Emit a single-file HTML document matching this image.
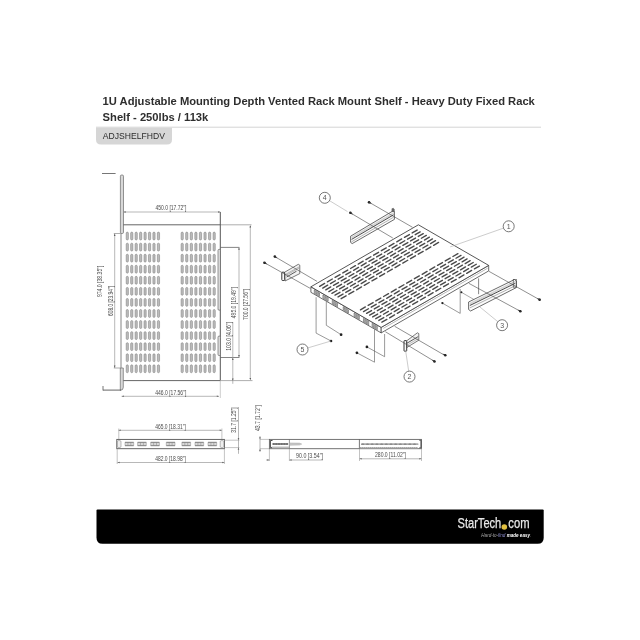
<!DOCTYPE html>
<html><head><meta charset="utf-8"><style>
html,body{margin:0;padding:0;background:#fff;}
body{width:640px;height:640px;overflow:hidden;position:relative;font-family:"Liberation Sans",sans-serif;}
svg{position:absolute;left:0;top:0;will-change:transform;}
</style></head><body>
<svg width="640" height="640" viewBox="0 0 640 640" font-family="Liberation Sans, sans-serif">
<rect width="640" height="640" fill="#fff"/>
<text x="102.6" y="104.5" font-size="11.2" font-weight="bold" fill="#2e2e2e">1U Adjustable Mounting Depth Vented Rack Mount Shelf - Heavy Duty Fixed Rack</text>
<text x="102.6" y="121.4" font-size="11.2" font-weight="bold" fill="#2e2e2e">Shelf - 250lbs / 113k</text>
<line x1="96" y1="127.2" x2="541" y2="127.2" stroke="#d4d4d4" stroke-width="1"/>
<path d="M96,127.7 H172 V139.4 Q172,144.4 167,144.4 H101 Q96,144.4 96,139.4 Z" fill="#d6d6d6"/>
<text x="102.8" y="139.3" font-size="8.6" fill="#2c2c2c">ADJSHELFHDV</text>
<line x1="102.00" y1="173.50" x2="115.60" y2="173.50" stroke="#666" stroke-width="0.9" />
<rect x="120.4" y="175" width="3.1" height="58.5" rx="1.2" fill="#d8d8d8" stroke="#6a6a6a" stroke-width="0.7"/>
<path d="M120.3,368 L123.3,368 L123.3,387.2 Q123.3,390.3 120.3,390.3 L120.3,368 Z" fill="#d8d8d8" stroke="#6a6a6a" stroke-width="0.7"/>
<line x1="103.00" y1="390.10" x2="121.00" y2="390.10" stroke="#555" stroke-width="0.9" />
<line x1="103.00" y1="386.00" x2="103.00" y2="390.50" stroke="#666" stroke-width="0.9" />
<line x1="121.00" y1="233.00" x2="121.00" y2="368.00" stroke="#777" stroke-width="0.9" />
<line x1="123.30" y1="224.80" x2="220.30" y2="224.80" stroke="#666" stroke-width="1.0" />
<line x1="220.30" y1="224.80" x2="251.50" y2="224.80" stroke="#999" stroke-width="0.8" />
<line x1="220.30" y1="212.00" x2="220.30" y2="380.60" stroke="#555" stroke-width="1.0" />
<line x1="123.30" y1="380.60" x2="220.30" y2="380.60" stroke="#666" stroke-width="1.0" />
<line x1="220.30" y1="380.60" x2="252.50" y2="380.60" stroke="#999" stroke-width="0.8" />
<rect x="126.20" y="232.10" width="2.2" height="7.9" rx="1.1" fill="#bcbcbc" stroke="#767676" stroke-width="0.5"/>
<rect x="181.10" y="232.10" width="2.2" height="7.9" rx="1.1" fill="#bcbcbc" stroke="#767676" stroke-width="0.5"/>
<rect x="130.65" y="232.10" width="2.2" height="7.9" rx="1.1" fill="#bcbcbc" stroke="#767676" stroke-width="0.5"/>
<rect x="185.67" y="232.10" width="2.2" height="7.9" rx="1.1" fill="#bcbcbc" stroke="#767676" stroke-width="0.5"/>
<rect x="135.10" y="232.10" width="2.2" height="7.9" rx="1.1" fill="#bcbcbc" stroke="#767676" stroke-width="0.5"/>
<rect x="190.24" y="232.10" width="2.2" height="7.9" rx="1.1" fill="#bcbcbc" stroke="#767676" stroke-width="0.5"/>
<rect x="139.55" y="232.10" width="2.2" height="7.9" rx="1.1" fill="#bcbcbc" stroke="#767676" stroke-width="0.5"/>
<rect x="194.81" y="232.10" width="2.2" height="7.9" rx="1.1" fill="#bcbcbc" stroke="#767676" stroke-width="0.5"/>
<rect x="144.00" y="232.10" width="2.2" height="7.9" rx="1.1" fill="#bcbcbc" stroke="#767676" stroke-width="0.5"/>
<rect x="199.38" y="232.10" width="2.2" height="7.9" rx="1.1" fill="#bcbcbc" stroke="#767676" stroke-width="0.5"/>
<rect x="148.45" y="232.10" width="2.2" height="7.9" rx="1.1" fill="#bcbcbc" stroke="#767676" stroke-width="0.5"/>
<rect x="203.95" y="232.10" width="2.2" height="7.9" rx="1.1" fill="#bcbcbc" stroke="#767676" stroke-width="0.5"/>
<rect x="152.90" y="232.10" width="2.2" height="7.9" rx="1.1" fill="#bcbcbc" stroke="#767676" stroke-width="0.5"/>
<rect x="208.52" y="232.10" width="2.2" height="7.9" rx="1.1" fill="#bcbcbc" stroke="#767676" stroke-width="0.5"/>
<rect x="157.35" y="232.10" width="2.2" height="7.9" rx="1.1" fill="#bcbcbc" stroke="#767676" stroke-width="0.5"/>
<rect x="213.09" y="232.10" width="2.2" height="7.9" rx="1.1" fill="#bcbcbc" stroke="#767676" stroke-width="0.5"/>
<rect x="126.20" y="243.16" width="2.2" height="7.9" rx="1.1" fill="#bcbcbc" stroke="#767676" stroke-width="0.5"/>
<rect x="181.10" y="243.16" width="2.2" height="7.9" rx="1.1" fill="#bcbcbc" stroke="#767676" stroke-width="0.5"/>
<rect x="130.65" y="243.16" width="2.2" height="7.9" rx="1.1" fill="#bcbcbc" stroke="#767676" stroke-width="0.5"/>
<rect x="185.67" y="243.16" width="2.2" height="7.9" rx="1.1" fill="#bcbcbc" stroke="#767676" stroke-width="0.5"/>
<rect x="135.10" y="243.16" width="2.2" height="7.9" rx="1.1" fill="#bcbcbc" stroke="#767676" stroke-width="0.5"/>
<rect x="190.24" y="243.16" width="2.2" height="7.9" rx="1.1" fill="#bcbcbc" stroke="#767676" stroke-width="0.5"/>
<rect x="139.55" y="243.16" width="2.2" height="7.9" rx="1.1" fill="#bcbcbc" stroke="#767676" stroke-width="0.5"/>
<rect x="194.81" y="243.16" width="2.2" height="7.9" rx="1.1" fill="#bcbcbc" stroke="#767676" stroke-width="0.5"/>
<rect x="144.00" y="243.16" width="2.2" height="7.9" rx="1.1" fill="#bcbcbc" stroke="#767676" stroke-width="0.5"/>
<rect x="199.38" y="243.16" width="2.2" height="7.9" rx="1.1" fill="#bcbcbc" stroke="#767676" stroke-width="0.5"/>
<rect x="148.45" y="243.16" width="2.2" height="7.9" rx="1.1" fill="#bcbcbc" stroke="#767676" stroke-width="0.5"/>
<rect x="203.95" y="243.16" width="2.2" height="7.9" rx="1.1" fill="#bcbcbc" stroke="#767676" stroke-width="0.5"/>
<rect x="152.90" y="243.16" width="2.2" height="7.9" rx="1.1" fill="#bcbcbc" stroke="#767676" stroke-width="0.5"/>
<rect x="208.52" y="243.16" width="2.2" height="7.9" rx="1.1" fill="#bcbcbc" stroke="#767676" stroke-width="0.5"/>
<rect x="157.35" y="243.16" width="2.2" height="7.9" rx="1.1" fill="#bcbcbc" stroke="#767676" stroke-width="0.5"/>
<rect x="213.09" y="243.16" width="2.2" height="7.9" rx="1.1" fill="#bcbcbc" stroke="#767676" stroke-width="0.5"/>
<rect x="126.20" y="254.22" width="2.2" height="7.9" rx="1.1" fill="#bcbcbc" stroke="#767676" stroke-width="0.5"/>
<rect x="181.10" y="254.22" width="2.2" height="7.9" rx="1.1" fill="#bcbcbc" stroke="#767676" stroke-width="0.5"/>
<rect x="130.65" y="254.22" width="2.2" height="7.9" rx="1.1" fill="#bcbcbc" stroke="#767676" stroke-width="0.5"/>
<rect x="185.67" y="254.22" width="2.2" height="7.9" rx="1.1" fill="#bcbcbc" stroke="#767676" stroke-width="0.5"/>
<rect x="135.10" y="254.22" width="2.2" height="7.9" rx="1.1" fill="#bcbcbc" stroke="#767676" stroke-width="0.5"/>
<rect x="190.24" y="254.22" width="2.2" height="7.9" rx="1.1" fill="#bcbcbc" stroke="#767676" stroke-width="0.5"/>
<rect x="139.55" y="254.22" width="2.2" height="7.9" rx="1.1" fill="#bcbcbc" stroke="#767676" stroke-width="0.5"/>
<rect x="194.81" y="254.22" width="2.2" height="7.9" rx="1.1" fill="#bcbcbc" stroke="#767676" stroke-width="0.5"/>
<rect x="144.00" y="254.22" width="2.2" height="7.9" rx="1.1" fill="#bcbcbc" stroke="#767676" stroke-width="0.5"/>
<rect x="199.38" y="254.22" width="2.2" height="7.9" rx="1.1" fill="#bcbcbc" stroke="#767676" stroke-width="0.5"/>
<rect x="148.45" y="254.22" width="2.2" height="7.9" rx="1.1" fill="#bcbcbc" stroke="#767676" stroke-width="0.5"/>
<rect x="203.95" y="254.22" width="2.2" height="7.9" rx="1.1" fill="#bcbcbc" stroke="#767676" stroke-width="0.5"/>
<rect x="152.90" y="254.22" width="2.2" height="7.9" rx="1.1" fill="#bcbcbc" stroke="#767676" stroke-width="0.5"/>
<rect x="208.52" y="254.22" width="2.2" height="7.9" rx="1.1" fill="#bcbcbc" stroke="#767676" stroke-width="0.5"/>
<rect x="157.35" y="254.22" width="2.2" height="7.9" rx="1.1" fill="#bcbcbc" stroke="#767676" stroke-width="0.5"/>
<rect x="213.09" y="254.22" width="2.2" height="7.9" rx="1.1" fill="#bcbcbc" stroke="#767676" stroke-width="0.5"/>
<rect x="126.20" y="265.28" width="2.2" height="7.9" rx="1.1" fill="#bcbcbc" stroke="#767676" stroke-width="0.5"/>
<rect x="181.10" y="265.28" width="2.2" height="7.9" rx="1.1" fill="#bcbcbc" stroke="#767676" stroke-width="0.5"/>
<rect x="130.65" y="265.28" width="2.2" height="7.9" rx="1.1" fill="#bcbcbc" stroke="#767676" stroke-width="0.5"/>
<rect x="185.67" y="265.28" width="2.2" height="7.9" rx="1.1" fill="#bcbcbc" stroke="#767676" stroke-width="0.5"/>
<rect x="135.10" y="265.28" width="2.2" height="7.9" rx="1.1" fill="#bcbcbc" stroke="#767676" stroke-width="0.5"/>
<rect x="190.24" y="265.28" width="2.2" height="7.9" rx="1.1" fill="#bcbcbc" stroke="#767676" stroke-width="0.5"/>
<rect x="139.55" y="265.28" width="2.2" height="7.9" rx="1.1" fill="#bcbcbc" stroke="#767676" stroke-width="0.5"/>
<rect x="194.81" y="265.28" width="2.2" height="7.9" rx="1.1" fill="#bcbcbc" stroke="#767676" stroke-width="0.5"/>
<rect x="144.00" y="265.28" width="2.2" height="7.9" rx="1.1" fill="#bcbcbc" stroke="#767676" stroke-width="0.5"/>
<rect x="199.38" y="265.28" width="2.2" height="7.9" rx="1.1" fill="#bcbcbc" stroke="#767676" stroke-width="0.5"/>
<rect x="148.45" y="265.28" width="2.2" height="7.9" rx="1.1" fill="#bcbcbc" stroke="#767676" stroke-width="0.5"/>
<rect x="203.95" y="265.28" width="2.2" height="7.9" rx="1.1" fill="#bcbcbc" stroke="#767676" stroke-width="0.5"/>
<rect x="152.90" y="265.28" width="2.2" height="7.9" rx="1.1" fill="#bcbcbc" stroke="#767676" stroke-width="0.5"/>
<rect x="208.52" y="265.28" width="2.2" height="7.9" rx="1.1" fill="#bcbcbc" stroke="#767676" stroke-width="0.5"/>
<rect x="157.35" y="265.28" width="2.2" height="7.9" rx="1.1" fill="#bcbcbc" stroke="#767676" stroke-width="0.5"/>
<rect x="213.09" y="265.28" width="2.2" height="7.9" rx="1.1" fill="#bcbcbc" stroke="#767676" stroke-width="0.5"/>
<rect x="126.20" y="276.34" width="2.2" height="7.9" rx="1.1" fill="#bcbcbc" stroke="#767676" stroke-width="0.5"/>
<rect x="181.10" y="276.34" width="2.2" height="7.9" rx="1.1" fill="#bcbcbc" stroke="#767676" stroke-width="0.5"/>
<rect x="130.65" y="276.34" width="2.2" height="7.9" rx="1.1" fill="#bcbcbc" stroke="#767676" stroke-width="0.5"/>
<rect x="185.67" y="276.34" width="2.2" height="7.9" rx="1.1" fill="#bcbcbc" stroke="#767676" stroke-width="0.5"/>
<rect x="135.10" y="276.34" width="2.2" height="7.9" rx="1.1" fill="#bcbcbc" stroke="#767676" stroke-width="0.5"/>
<rect x="190.24" y="276.34" width="2.2" height="7.9" rx="1.1" fill="#bcbcbc" stroke="#767676" stroke-width="0.5"/>
<rect x="139.55" y="276.34" width="2.2" height="7.9" rx="1.1" fill="#bcbcbc" stroke="#767676" stroke-width="0.5"/>
<rect x="194.81" y="276.34" width="2.2" height="7.9" rx="1.1" fill="#bcbcbc" stroke="#767676" stroke-width="0.5"/>
<rect x="144.00" y="276.34" width="2.2" height="7.9" rx="1.1" fill="#bcbcbc" stroke="#767676" stroke-width="0.5"/>
<rect x="199.38" y="276.34" width="2.2" height="7.9" rx="1.1" fill="#bcbcbc" stroke="#767676" stroke-width="0.5"/>
<rect x="148.45" y="276.34" width="2.2" height="7.9" rx="1.1" fill="#bcbcbc" stroke="#767676" stroke-width="0.5"/>
<rect x="203.95" y="276.34" width="2.2" height="7.9" rx="1.1" fill="#bcbcbc" stroke="#767676" stroke-width="0.5"/>
<rect x="152.90" y="276.34" width="2.2" height="7.9" rx="1.1" fill="#bcbcbc" stroke="#767676" stroke-width="0.5"/>
<rect x="208.52" y="276.34" width="2.2" height="7.9" rx="1.1" fill="#bcbcbc" stroke="#767676" stroke-width="0.5"/>
<rect x="157.35" y="276.34" width="2.2" height="7.9" rx="1.1" fill="#bcbcbc" stroke="#767676" stroke-width="0.5"/>
<rect x="213.09" y="276.34" width="2.2" height="7.9" rx="1.1" fill="#bcbcbc" stroke="#767676" stroke-width="0.5"/>
<rect x="126.20" y="287.40" width="2.2" height="7.9" rx="1.1" fill="#bcbcbc" stroke="#767676" stroke-width="0.5"/>
<rect x="181.10" y="287.40" width="2.2" height="7.9" rx="1.1" fill="#bcbcbc" stroke="#767676" stroke-width="0.5"/>
<rect x="130.65" y="287.40" width="2.2" height="7.9" rx="1.1" fill="#bcbcbc" stroke="#767676" stroke-width="0.5"/>
<rect x="185.67" y="287.40" width="2.2" height="7.9" rx="1.1" fill="#bcbcbc" stroke="#767676" stroke-width="0.5"/>
<rect x="135.10" y="287.40" width="2.2" height="7.9" rx="1.1" fill="#bcbcbc" stroke="#767676" stroke-width="0.5"/>
<rect x="190.24" y="287.40" width="2.2" height="7.9" rx="1.1" fill="#bcbcbc" stroke="#767676" stroke-width="0.5"/>
<rect x="139.55" y="287.40" width="2.2" height="7.9" rx="1.1" fill="#bcbcbc" stroke="#767676" stroke-width="0.5"/>
<rect x="194.81" y="287.40" width="2.2" height="7.9" rx="1.1" fill="#bcbcbc" stroke="#767676" stroke-width="0.5"/>
<rect x="144.00" y="287.40" width="2.2" height="7.9" rx="1.1" fill="#bcbcbc" stroke="#767676" stroke-width="0.5"/>
<rect x="199.38" y="287.40" width="2.2" height="7.9" rx="1.1" fill="#bcbcbc" stroke="#767676" stroke-width="0.5"/>
<rect x="148.45" y="287.40" width="2.2" height="7.9" rx="1.1" fill="#bcbcbc" stroke="#767676" stroke-width="0.5"/>
<rect x="203.95" y="287.40" width="2.2" height="7.9" rx="1.1" fill="#bcbcbc" stroke="#767676" stroke-width="0.5"/>
<rect x="152.90" y="287.40" width="2.2" height="7.9" rx="1.1" fill="#bcbcbc" stroke="#767676" stroke-width="0.5"/>
<rect x="208.52" y="287.40" width="2.2" height="7.9" rx="1.1" fill="#bcbcbc" stroke="#767676" stroke-width="0.5"/>
<rect x="157.35" y="287.40" width="2.2" height="7.9" rx="1.1" fill="#bcbcbc" stroke="#767676" stroke-width="0.5"/>
<rect x="213.09" y="287.40" width="2.2" height="7.9" rx="1.1" fill="#bcbcbc" stroke="#767676" stroke-width="0.5"/>
<rect x="126.20" y="298.46" width="2.2" height="7.9" rx="1.1" fill="#bcbcbc" stroke="#767676" stroke-width="0.5"/>
<rect x="181.10" y="298.46" width="2.2" height="7.9" rx="1.1" fill="#bcbcbc" stroke="#767676" stroke-width="0.5"/>
<rect x="130.65" y="298.46" width="2.2" height="7.9" rx="1.1" fill="#bcbcbc" stroke="#767676" stroke-width="0.5"/>
<rect x="185.67" y="298.46" width="2.2" height="7.9" rx="1.1" fill="#bcbcbc" stroke="#767676" stroke-width="0.5"/>
<rect x="135.10" y="298.46" width="2.2" height="7.9" rx="1.1" fill="#bcbcbc" stroke="#767676" stroke-width="0.5"/>
<rect x="190.24" y="298.46" width="2.2" height="7.9" rx="1.1" fill="#bcbcbc" stroke="#767676" stroke-width="0.5"/>
<rect x="139.55" y="298.46" width="2.2" height="7.9" rx="1.1" fill="#bcbcbc" stroke="#767676" stroke-width="0.5"/>
<rect x="194.81" y="298.46" width="2.2" height="7.9" rx="1.1" fill="#bcbcbc" stroke="#767676" stroke-width="0.5"/>
<rect x="144.00" y="298.46" width="2.2" height="7.9" rx="1.1" fill="#bcbcbc" stroke="#767676" stroke-width="0.5"/>
<rect x="199.38" y="298.46" width="2.2" height="7.9" rx="1.1" fill="#bcbcbc" stroke="#767676" stroke-width="0.5"/>
<rect x="148.45" y="298.46" width="2.2" height="7.9" rx="1.1" fill="#bcbcbc" stroke="#767676" stroke-width="0.5"/>
<rect x="203.95" y="298.46" width="2.2" height="7.9" rx="1.1" fill="#bcbcbc" stroke="#767676" stroke-width="0.5"/>
<rect x="152.90" y="298.46" width="2.2" height="7.9" rx="1.1" fill="#bcbcbc" stroke="#767676" stroke-width="0.5"/>
<rect x="208.52" y="298.46" width="2.2" height="7.9" rx="1.1" fill="#bcbcbc" stroke="#767676" stroke-width="0.5"/>
<rect x="157.35" y="298.46" width="2.2" height="7.9" rx="1.1" fill="#bcbcbc" stroke="#767676" stroke-width="0.5"/>
<rect x="213.09" y="298.46" width="2.2" height="7.9" rx="1.1" fill="#bcbcbc" stroke="#767676" stroke-width="0.5"/>
<rect x="126.20" y="309.52" width="2.2" height="7.9" rx="1.1" fill="#bcbcbc" stroke="#767676" stroke-width="0.5"/>
<rect x="181.10" y="309.52" width="2.2" height="7.9" rx="1.1" fill="#bcbcbc" stroke="#767676" stroke-width="0.5"/>
<rect x="130.65" y="309.52" width="2.2" height="7.9" rx="1.1" fill="#bcbcbc" stroke="#767676" stroke-width="0.5"/>
<rect x="185.67" y="309.52" width="2.2" height="7.9" rx="1.1" fill="#bcbcbc" stroke="#767676" stroke-width="0.5"/>
<rect x="135.10" y="309.52" width="2.2" height="7.9" rx="1.1" fill="#bcbcbc" stroke="#767676" stroke-width="0.5"/>
<rect x="190.24" y="309.52" width="2.2" height="7.9" rx="1.1" fill="#bcbcbc" stroke="#767676" stroke-width="0.5"/>
<rect x="139.55" y="309.52" width="2.2" height="7.9" rx="1.1" fill="#bcbcbc" stroke="#767676" stroke-width="0.5"/>
<rect x="194.81" y="309.52" width="2.2" height="7.9" rx="1.1" fill="#bcbcbc" stroke="#767676" stroke-width="0.5"/>
<rect x="144.00" y="309.52" width="2.2" height="7.9" rx="1.1" fill="#bcbcbc" stroke="#767676" stroke-width="0.5"/>
<rect x="199.38" y="309.52" width="2.2" height="7.9" rx="1.1" fill="#bcbcbc" stroke="#767676" stroke-width="0.5"/>
<rect x="148.45" y="309.52" width="2.2" height="7.9" rx="1.1" fill="#bcbcbc" stroke="#767676" stroke-width="0.5"/>
<rect x="203.95" y="309.52" width="2.2" height="7.9" rx="1.1" fill="#bcbcbc" stroke="#767676" stroke-width="0.5"/>
<rect x="152.90" y="309.52" width="2.2" height="7.9" rx="1.1" fill="#bcbcbc" stroke="#767676" stroke-width="0.5"/>
<rect x="208.52" y="309.52" width="2.2" height="7.9" rx="1.1" fill="#bcbcbc" stroke="#767676" stroke-width="0.5"/>
<rect x="157.35" y="309.52" width="2.2" height="7.9" rx="1.1" fill="#bcbcbc" stroke="#767676" stroke-width="0.5"/>
<rect x="213.09" y="309.52" width="2.2" height="7.9" rx="1.1" fill="#bcbcbc" stroke="#767676" stroke-width="0.5"/>
<rect x="126.20" y="320.58" width="2.2" height="7.9" rx="1.1" fill="#bcbcbc" stroke="#767676" stroke-width="0.5"/>
<rect x="181.10" y="320.58" width="2.2" height="7.9" rx="1.1" fill="#bcbcbc" stroke="#767676" stroke-width="0.5"/>
<rect x="130.65" y="320.58" width="2.2" height="7.9" rx="1.1" fill="#bcbcbc" stroke="#767676" stroke-width="0.5"/>
<rect x="185.67" y="320.58" width="2.2" height="7.9" rx="1.1" fill="#bcbcbc" stroke="#767676" stroke-width="0.5"/>
<rect x="135.10" y="320.58" width="2.2" height="7.9" rx="1.1" fill="#bcbcbc" stroke="#767676" stroke-width="0.5"/>
<rect x="190.24" y="320.58" width="2.2" height="7.9" rx="1.1" fill="#bcbcbc" stroke="#767676" stroke-width="0.5"/>
<rect x="139.55" y="320.58" width="2.2" height="7.9" rx="1.1" fill="#bcbcbc" stroke="#767676" stroke-width="0.5"/>
<rect x="194.81" y="320.58" width="2.2" height="7.9" rx="1.1" fill="#bcbcbc" stroke="#767676" stroke-width="0.5"/>
<rect x="144.00" y="320.58" width="2.2" height="7.9" rx="1.1" fill="#bcbcbc" stroke="#767676" stroke-width="0.5"/>
<rect x="199.38" y="320.58" width="2.2" height="7.9" rx="1.1" fill="#bcbcbc" stroke="#767676" stroke-width="0.5"/>
<rect x="148.45" y="320.58" width="2.2" height="7.9" rx="1.1" fill="#bcbcbc" stroke="#767676" stroke-width="0.5"/>
<rect x="203.95" y="320.58" width="2.2" height="7.9" rx="1.1" fill="#bcbcbc" stroke="#767676" stroke-width="0.5"/>
<rect x="152.90" y="320.58" width="2.2" height="7.9" rx="1.1" fill="#bcbcbc" stroke="#767676" stroke-width="0.5"/>
<rect x="208.52" y="320.58" width="2.2" height="7.9" rx="1.1" fill="#bcbcbc" stroke="#767676" stroke-width="0.5"/>
<rect x="157.35" y="320.58" width="2.2" height="7.9" rx="1.1" fill="#bcbcbc" stroke="#767676" stroke-width="0.5"/>
<rect x="213.09" y="320.58" width="2.2" height="7.9" rx="1.1" fill="#bcbcbc" stroke="#767676" stroke-width="0.5"/>
<rect x="126.20" y="331.64" width="2.2" height="7.9" rx="1.1" fill="#bcbcbc" stroke="#767676" stroke-width="0.5"/>
<rect x="181.10" y="331.64" width="2.2" height="7.9" rx="1.1" fill="#bcbcbc" stroke="#767676" stroke-width="0.5"/>
<rect x="130.65" y="331.64" width="2.2" height="7.9" rx="1.1" fill="#bcbcbc" stroke="#767676" stroke-width="0.5"/>
<rect x="185.67" y="331.64" width="2.2" height="7.9" rx="1.1" fill="#bcbcbc" stroke="#767676" stroke-width="0.5"/>
<rect x="135.10" y="331.64" width="2.2" height="7.9" rx="1.1" fill="#bcbcbc" stroke="#767676" stroke-width="0.5"/>
<rect x="190.24" y="331.64" width="2.2" height="7.9" rx="1.1" fill="#bcbcbc" stroke="#767676" stroke-width="0.5"/>
<rect x="139.55" y="331.64" width="2.2" height="7.9" rx="1.1" fill="#bcbcbc" stroke="#767676" stroke-width="0.5"/>
<rect x="194.81" y="331.64" width="2.2" height="7.9" rx="1.1" fill="#bcbcbc" stroke="#767676" stroke-width="0.5"/>
<rect x="144.00" y="331.64" width="2.2" height="7.9" rx="1.1" fill="#bcbcbc" stroke="#767676" stroke-width="0.5"/>
<rect x="199.38" y="331.64" width="2.2" height="7.9" rx="1.1" fill="#bcbcbc" stroke="#767676" stroke-width="0.5"/>
<rect x="148.45" y="331.64" width="2.2" height="7.9" rx="1.1" fill="#bcbcbc" stroke="#767676" stroke-width="0.5"/>
<rect x="203.95" y="331.64" width="2.2" height="7.9" rx="1.1" fill="#bcbcbc" stroke="#767676" stroke-width="0.5"/>
<rect x="152.90" y="331.64" width="2.2" height="7.9" rx="1.1" fill="#bcbcbc" stroke="#767676" stroke-width="0.5"/>
<rect x="208.52" y="331.64" width="2.2" height="7.9" rx="1.1" fill="#bcbcbc" stroke="#767676" stroke-width="0.5"/>
<rect x="157.35" y="331.64" width="2.2" height="7.9" rx="1.1" fill="#bcbcbc" stroke="#767676" stroke-width="0.5"/>
<rect x="213.09" y="331.64" width="2.2" height="7.9" rx="1.1" fill="#bcbcbc" stroke="#767676" stroke-width="0.5"/>
<rect x="126.20" y="342.70" width="2.2" height="7.9" rx="1.1" fill="#bcbcbc" stroke="#767676" stroke-width="0.5"/>
<rect x="181.10" y="342.70" width="2.2" height="7.9" rx="1.1" fill="#bcbcbc" stroke="#767676" stroke-width="0.5"/>
<rect x="130.65" y="342.70" width="2.2" height="7.9" rx="1.1" fill="#bcbcbc" stroke="#767676" stroke-width="0.5"/>
<rect x="185.67" y="342.70" width="2.2" height="7.9" rx="1.1" fill="#bcbcbc" stroke="#767676" stroke-width="0.5"/>
<rect x="135.10" y="342.70" width="2.2" height="7.9" rx="1.1" fill="#bcbcbc" stroke="#767676" stroke-width="0.5"/>
<rect x="190.24" y="342.70" width="2.2" height="7.9" rx="1.1" fill="#bcbcbc" stroke="#767676" stroke-width="0.5"/>
<rect x="139.55" y="342.70" width="2.2" height="7.9" rx="1.1" fill="#bcbcbc" stroke="#767676" stroke-width="0.5"/>
<rect x="194.81" y="342.70" width="2.2" height="7.9" rx="1.1" fill="#bcbcbc" stroke="#767676" stroke-width="0.5"/>
<rect x="144.00" y="342.70" width="2.2" height="7.9" rx="1.1" fill="#bcbcbc" stroke="#767676" stroke-width="0.5"/>
<rect x="199.38" y="342.70" width="2.2" height="7.9" rx="1.1" fill="#bcbcbc" stroke="#767676" stroke-width="0.5"/>
<rect x="148.45" y="342.70" width="2.2" height="7.9" rx="1.1" fill="#bcbcbc" stroke="#767676" stroke-width="0.5"/>
<rect x="203.95" y="342.70" width="2.2" height="7.9" rx="1.1" fill="#bcbcbc" stroke="#767676" stroke-width="0.5"/>
<rect x="152.90" y="342.70" width="2.2" height="7.9" rx="1.1" fill="#bcbcbc" stroke="#767676" stroke-width="0.5"/>
<rect x="208.52" y="342.70" width="2.2" height="7.9" rx="1.1" fill="#bcbcbc" stroke="#767676" stroke-width="0.5"/>
<rect x="157.35" y="342.70" width="2.2" height="7.9" rx="1.1" fill="#bcbcbc" stroke="#767676" stroke-width="0.5"/>
<rect x="213.09" y="342.70" width="2.2" height="7.9" rx="1.1" fill="#bcbcbc" stroke="#767676" stroke-width="0.5"/>
<rect x="126.20" y="353.76" width="2.2" height="7.9" rx="1.1" fill="#bcbcbc" stroke="#767676" stroke-width="0.5"/>
<rect x="181.10" y="353.76" width="2.2" height="7.9" rx="1.1" fill="#bcbcbc" stroke="#767676" stroke-width="0.5"/>
<rect x="130.65" y="353.76" width="2.2" height="7.9" rx="1.1" fill="#bcbcbc" stroke="#767676" stroke-width="0.5"/>
<rect x="185.67" y="353.76" width="2.2" height="7.9" rx="1.1" fill="#bcbcbc" stroke="#767676" stroke-width="0.5"/>
<rect x="135.10" y="353.76" width="2.2" height="7.9" rx="1.1" fill="#bcbcbc" stroke="#767676" stroke-width="0.5"/>
<rect x="190.24" y="353.76" width="2.2" height="7.9" rx="1.1" fill="#bcbcbc" stroke="#767676" stroke-width="0.5"/>
<rect x="139.55" y="353.76" width="2.2" height="7.9" rx="1.1" fill="#bcbcbc" stroke="#767676" stroke-width="0.5"/>
<rect x="194.81" y="353.76" width="2.2" height="7.9" rx="1.1" fill="#bcbcbc" stroke="#767676" stroke-width="0.5"/>
<rect x="144.00" y="353.76" width="2.2" height="7.9" rx="1.1" fill="#bcbcbc" stroke="#767676" stroke-width="0.5"/>
<rect x="199.38" y="353.76" width="2.2" height="7.9" rx="1.1" fill="#bcbcbc" stroke="#767676" stroke-width="0.5"/>
<rect x="148.45" y="353.76" width="2.2" height="7.9" rx="1.1" fill="#bcbcbc" stroke="#767676" stroke-width="0.5"/>
<rect x="203.95" y="353.76" width="2.2" height="7.9" rx="1.1" fill="#bcbcbc" stroke="#767676" stroke-width="0.5"/>
<rect x="152.90" y="353.76" width="2.2" height="7.9" rx="1.1" fill="#bcbcbc" stroke="#767676" stroke-width="0.5"/>
<rect x="208.52" y="353.76" width="2.2" height="7.9" rx="1.1" fill="#bcbcbc" stroke="#767676" stroke-width="0.5"/>
<rect x="157.35" y="353.76" width="2.2" height="7.9" rx="1.1" fill="#bcbcbc" stroke="#767676" stroke-width="0.5"/>
<rect x="213.09" y="353.76" width="2.2" height="7.9" rx="1.1" fill="#bcbcbc" stroke="#767676" stroke-width="0.5"/>
<rect x="126.20" y="364.82" width="2.2" height="7.9" rx="1.1" fill="#bcbcbc" stroke="#767676" stroke-width="0.5"/>
<rect x="181.10" y="364.82" width="2.2" height="7.9" rx="1.1" fill="#bcbcbc" stroke="#767676" stroke-width="0.5"/>
<rect x="130.65" y="364.82" width="2.2" height="7.9" rx="1.1" fill="#bcbcbc" stroke="#767676" stroke-width="0.5"/>
<rect x="185.67" y="364.82" width="2.2" height="7.9" rx="1.1" fill="#bcbcbc" stroke="#767676" stroke-width="0.5"/>
<rect x="135.10" y="364.82" width="2.2" height="7.9" rx="1.1" fill="#bcbcbc" stroke="#767676" stroke-width="0.5"/>
<rect x="190.24" y="364.82" width="2.2" height="7.9" rx="1.1" fill="#bcbcbc" stroke="#767676" stroke-width="0.5"/>
<rect x="139.55" y="364.82" width="2.2" height="7.9" rx="1.1" fill="#bcbcbc" stroke="#767676" stroke-width="0.5"/>
<rect x="194.81" y="364.82" width="2.2" height="7.9" rx="1.1" fill="#bcbcbc" stroke="#767676" stroke-width="0.5"/>
<rect x="144.00" y="364.82" width="2.2" height="7.9" rx="1.1" fill="#bcbcbc" stroke="#767676" stroke-width="0.5"/>
<rect x="199.38" y="364.82" width="2.2" height="7.9" rx="1.1" fill="#bcbcbc" stroke="#767676" stroke-width="0.5"/>
<rect x="148.45" y="364.82" width="2.2" height="7.9" rx="1.1" fill="#bcbcbc" stroke="#767676" stroke-width="0.5"/>
<rect x="203.95" y="364.82" width="2.2" height="7.9" rx="1.1" fill="#bcbcbc" stroke="#767676" stroke-width="0.5"/>
<rect x="152.90" y="364.82" width="2.2" height="7.9" rx="1.1" fill="#bcbcbc" stroke="#767676" stroke-width="0.5"/>
<rect x="208.52" y="364.82" width="2.2" height="7.9" rx="1.1" fill="#bcbcbc" stroke="#767676" stroke-width="0.5"/>
<rect x="157.35" y="364.82" width="2.2" height="7.9" rx="1.1" fill="#bcbcbc" stroke="#767676" stroke-width="0.5"/>
<rect x="213.09" y="364.82" width="2.2" height="7.9" rx="1.1" fill="#bcbcbc" stroke="#767676" stroke-width="0.5"/>
<line x1="123.50" y1="212.00" x2="220.30" y2="212.00" stroke="#9a9a9a" stroke-width="0.7" />
<path d="M123.50,212.00 L125.70,211.20 L125.70,212.80Z" fill="#555"/>
<path d="M220.30,212.00 L218.10,212.80 L218.10,211.20Z" fill="#555"/>
<text x="171.00" y="209.98" text-anchor="middle" font-size="6.6" textLength="31" lengthAdjust="spacingAndGlyphs" fill="#4a4a4a">450.0 [17.72"]</text>
<line x1="113.80" y1="233.50" x2="120.40" y2="233.50" stroke="#777" stroke-width="0.6" />
<line x1="114.70" y1="233.50" x2="114.70" y2="368.00" stroke="#9a9a9a" stroke-width="0.7" />
<line x1="113.80" y1="368.00" x2="120.30" y2="368.00" stroke="#777" stroke-width="0.6" />
<text transform="translate(110.60,301.00) rotate(-90)" x="0" y="2.38" text-anchor="middle" font-size="6.6" textLength="30" lengthAdjust="spacingAndGlyphs" fill="#4a4a4a">608.0 [23.94"]</text>
<text transform="translate(99.40,281.30) rotate(-90)" x="0" y="2.38" text-anchor="middle" font-size="6.6" textLength="31.5" lengthAdjust="spacingAndGlyphs" fill="#4a4a4a">974.0 [38.35"]</text>
<rect x="218" y="249.3" width="2.4" height="61" rx="1.2" fill="#e2e2e2" stroke="#555" stroke-width="0.6"/>
<rect x="218" y="336" width="2.4" height="19.6" rx="1.2" fill="#e2e2e2" stroke="#555" stroke-width="0.6"/>
<line x1="220.30" y1="247.40" x2="239.40" y2="247.40" stroke="#666" stroke-width="0.8" />
<line x1="220.30" y1="357.50" x2="239.40" y2="357.50" stroke="#666" stroke-width="0.8" />
<line x1="239.00" y1="247.40" x2="239.00" y2="357.50" stroke="#9a9a9a" stroke-width="0.7" />
<line x1="232.80" y1="322.00" x2="232.80" y2="383.80" stroke="#9a9a9a" stroke-width="0.7" />
<line x1="250.30" y1="226.00" x2="250.30" y2="378.80" stroke="#9a9a9a" stroke-width="0.7" />
<path d="M239.00,247.60 L239.80,249.80 L238.20,249.80Z" fill="#555"/>
<path d="M239.00,357.30 L238.20,355.10 L239.80,355.10Z" fill="#555"/>
<path d="M250.30,225.20 L251.10,227.40 L249.50,227.40Z" fill="#555"/>
<path d="M250.30,380.20 L249.50,378.00 L251.10,378.00Z" fill="#555"/>
<path d="M232.80,357.70 L233.60,359.90 L232.00,359.90Z" fill="#555"/>
<path d="M232.80,380.80 L232.00,378.60 L233.60,378.60Z" fill="#555"/>
<path d="M114.70,233.70 L115.50,235.90 L113.90,235.90Z" fill="#555"/>
<path d="M114.70,367.80 L113.90,365.60 L115.50,365.60Z" fill="#555"/>
<text transform="translate(234.10,302.60) rotate(-90)" x="0" y="2.38" text-anchor="middle" font-size="6.6" textLength="31.3" lengthAdjust="spacingAndGlyphs" fill="#4a4a4a">495.0 [19.49"]</text>
<text transform="translate(245.80,304.40) rotate(-90)" x="0" y="2.38" text-anchor="middle" font-size="6.6" textLength="31" lengthAdjust="spacingAndGlyphs" fill="#4a4a4a">700.0 [27.56"]</text>
<text transform="translate(228.70,336.30) rotate(-90)" x="0" y="2.38" text-anchor="middle" font-size="6.6" textLength="29" lengthAdjust="spacingAndGlyphs" fill="#4a4a4a">103.0 [4.06"]</text>
<line x1="121.60" y1="396.30" x2="219.00" y2="396.30" stroke="#9a9a9a" stroke-width="0.7" />
<path d="M121.60,396.30 L123.80,395.50 L123.80,397.10Z" fill="#666"/>
<path d="M219.00,396.30 L216.80,397.10 L216.80,395.50Z" fill="#666"/>
<line x1="220.30" y1="380.60" x2="220.30" y2="398.00" stroke="#9a9a9a" stroke-width="0.5" />
<text x="170.80" y="394.58" text-anchor="middle" font-size="6.6" textLength="31" lengthAdjust="spacingAndGlyphs" fill="#4a4a4a">446.0 [17.56"]</text>
<line x1="118.50" y1="430.30" x2="221.90" y2="430.30" stroke="#9a9a9a" stroke-width="0.7" />
<path d="M118.50,430.30 L120.70,429.50 L120.70,431.10Z" fill="#666"/>
<path d="M221.90,430.30 L219.70,431.10 L219.70,429.50Z" fill="#666"/>
<line x1="118.80" y1="428.50" x2="118.80" y2="439.40" stroke="#9a9a9a" stroke-width="0.6" />
<line x1="221.90" y1="428.50" x2="221.90" y2="439.40" stroke="#9a9a9a" stroke-width="0.6" />
<text x="170.50" y="428.88" text-anchor="middle" font-size="6.6" textLength="30.5" lengthAdjust="spacingAndGlyphs" fill="#4a4a4a">465.0 [18.31"]</text>
<rect x="116.8" y="439.4" width="107.6" height="9.3" fill="#fff" stroke="#555" stroke-width="0.9"/>
<rect x="117.4" y="440.6" width="3.6" height="6.9" rx="1.2" fill="#eee" stroke="#777" stroke-width="0.5"/>
<rect x="220.2" y="440.6" width="3.6" height="6.9" rx="1.2" fill="#eee" stroke="#777" stroke-width="0.5"/>
<rect x="125.00" y="442.2" width="8.7" height="3.6" fill="#d8d8d8"/>
<line x1="125.00" y1="442.30" x2="133.70" y2="442.30" stroke="#666" stroke-width="0.8" />
<line x1="125.00" y1="445.70" x2="133.70" y2="445.70" stroke="#666" stroke-width="0.8" />
<line x1="125.00" y1="442.30" x2="125.00" y2="445.70" stroke="#888" stroke-width="0.5" />
<line x1="127.90" y1="442.30" x2="127.90" y2="445.70" stroke="#888" stroke-width="0.5" />
<line x1="130.80" y1="442.30" x2="130.80" y2="445.70" stroke="#888" stroke-width="0.5" />
<line x1="133.70" y1="442.30" x2="133.70" y2="445.70" stroke="#888" stroke-width="0.5" />
<rect x="137.60" y="442.2" width="8.7" height="3.6" fill="#d8d8d8"/>
<line x1="137.60" y1="442.30" x2="146.30" y2="442.30" stroke="#666" stroke-width="0.8" />
<line x1="137.60" y1="445.70" x2="146.30" y2="445.70" stroke="#666" stroke-width="0.8" />
<line x1="137.60" y1="442.30" x2="137.60" y2="445.70" stroke="#888" stroke-width="0.5" />
<line x1="140.50" y1="442.30" x2="140.50" y2="445.70" stroke="#888" stroke-width="0.5" />
<line x1="143.40" y1="442.30" x2="143.40" y2="445.70" stroke="#888" stroke-width="0.5" />
<line x1="146.30" y1="442.30" x2="146.30" y2="445.70" stroke="#888" stroke-width="0.5" />
<rect x="150.70" y="442.2" width="8.7" height="3.6" fill="#d8d8d8"/>
<line x1="150.70" y1="442.30" x2="159.40" y2="442.30" stroke="#666" stroke-width="0.8" />
<line x1="150.70" y1="445.70" x2="159.40" y2="445.70" stroke="#666" stroke-width="0.8" />
<line x1="150.70" y1="442.30" x2="150.70" y2="445.70" stroke="#888" stroke-width="0.5" />
<line x1="153.60" y1="442.30" x2="153.60" y2="445.70" stroke="#888" stroke-width="0.5" />
<line x1="156.50" y1="442.30" x2="156.50" y2="445.70" stroke="#888" stroke-width="0.5" />
<line x1="159.40" y1="442.30" x2="159.40" y2="445.70" stroke="#888" stroke-width="0.5" />
<rect x="166.30" y="442.2" width="8.7" height="3.6" fill="#d8d8d8"/>
<line x1="166.30" y1="442.30" x2="175.00" y2="442.30" stroke="#666" stroke-width="0.8" />
<line x1="166.30" y1="445.70" x2="175.00" y2="445.70" stroke="#666" stroke-width="0.8" />
<line x1="166.30" y1="442.30" x2="166.30" y2="445.70" stroke="#888" stroke-width="0.5" />
<line x1="169.20" y1="442.30" x2="169.20" y2="445.70" stroke="#888" stroke-width="0.5" />
<line x1="172.10" y1="442.30" x2="172.10" y2="445.70" stroke="#888" stroke-width="0.5" />
<line x1="175.00" y1="442.30" x2="175.00" y2="445.70" stroke="#888" stroke-width="0.5" />
<rect x="181.90" y="442.2" width="8.7" height="3.6" fill="#d8d8d8"/>
<line x1="181.90" y1="442.30" x2="190.60" y2="442.30" stroke="#666" stroke-width="0.8" />
<line x1="181.90" y1="445.70" x2="190.60" y2="445.70" stroke="#666" stroke-width="0.8" />
<line x1="181.90" y1="442.30" x2="181.90" y2="445.70" stroke="#888" stroke-width="0.5" />
<line x1="184.80" y1="442.30" x2="184.80" y2="445.70" stroke="#888" stroke-width="0.5" />
<line x1="187.70" y1="442.30" x2="187.70" y2="445.70" stroke="#888" stroke-width="0.5" />
<line x1="190.60" y1="442.30" x2="190.60" y2="445.70" stroke="#888" stroke-width="0.5" />
<rect x="195.00" y="442.2" width="8.7" height="3.6" fill="#d8d8d8"/>
<line x1="195.00" y1="442.30" x2="203.70" y2="442.30" stroke="#666" stroke-width="0.8" />
<line x1="195.00" y1="445.70" x2="203.70" y2="445.70" stroke="#666" stroke-width="0.8" />
<line x1="195.00" y1="442.30" x2="195.00" y2="445.70" stroke="#888" stroke-width="0.5" />
<line x1="197.90" y1="442.30" x2="197.90" y2="445.70" stroke="#888" stroke-width="0.5" />
<line x1="200.80" y1="442.30" x2="200.80" y2="445.70" stroke="#888" stroke-width="0.5" />
<line x1="203.70" y1="442.30" x2="203.70" y2="445.70" stroke="#888" stroke-width="0.5" />
<rect x="208.00" y="442.2" width="8.7" height="3.6" fill="#d8d8d8"/>
<line x1="208.00" y1="442.30" x2="216.70" y2="442.30" stroke="#666" stroke-width="0.8" />
<line x1="208.00" y1="445.70" x2="216.70" y2="445.70" stroke="#666" stroke-width="0.8" />
<line x1="208.00" y1="442.30" x2="208.00" y2="445.70" stroke="#888" stroke-width="0.5" />
<line x1="210.90" y1="442.30" x2="210.90" y2="445.70" stroke="#888" stroke-width="0.5" />
<line x1="213.80" y1="442.30" x2="213.80" y2="445.70" stroke="#888" stroke-width="0.5" />
<line x1="216.70" y1="442.30" x2="216.70" y2="445.70" stroke="#888" stroke-width="0.5" />
<line x1="117.20" y1="448.70" x2="117.20" y2="464.00" stroke="#9a9a9a" stroke-width="0.6" />
<line x1="224.40" y1="448.70" x2="224.40" y2="464.00" stroke="#9a9a9a" stroke-width="0.6" />
<line x1="117.50" y1="462.50" x2="224.40" y2="462.50" stroke="#9a9a9a" stroke-width="0.7" />
<path d="M117.50,462.50 L119.70,461.70 L119.70,463.30Z" fill="#666"/>
<path d="M224.40,462.50 L222.20,463.30 L222.20,461.70Z" fill="#666"/>
<text x="170.50" y="461.08" text-anchor="middle" font-size="6.6" textLength="30.5" lengthAdjust="spacingAndGlyphs" fill="#4a4a4a">482.0 [18.98"]</text>
<line x1="224.40" y1="440.20" x2="239.40" y2="440.20" stroke="#9a9a9a" stroke-width="0.6" />
<line x1="224.40" y1="447.60" x2="239.40" y2="447.60" stroke="#9a9a9a" stroke-width="0.6" />
<line x1="238.50" y1="407.00" x2="238.50" y2="453.80" stroke="#9a9a9a" stroke-width="0.7" />
<path d="M238.50,440.20 L237.70,438.00 L239.30,438.00Z" fill="#666"/>
<path d="M238.50,447.60 L239.30,449.80 L237.70,449.80Z" fill="#666"/>
<text transform="translate(233.50,420.00) rotate(-90)" x="0" y="2.38" text-anchor="middle" font-size="6.6" textLength="25.5" lengthAdjust="spacingAndGlyphs" fill="#4a4a4a">31.7 [1.25"]</text>
<text transform="translate(257.20,418.00) rotate(-90)" x="0" y="2.38" text-anchor="middle" font-size="6.6" textLength="26" lengthAdjust="spacingAndGlyphs" fill="#4a4a4a">43.7 [1.72"]</text>
<line x1="260.00" y1="436.00" x2="260.00" y2="452.00" stroke="#9a9a9a" stroke-width="0.7" />
<line x1="260.00" y1="439.40" x2="269.40" y2="439.40" stroke="#9a9a9a" stroke-width="0.6" />
<line x1="260.00" y1="448.70" x2="269.40" y2="448.70" stroke="#9a9a9a" stroke-width="0.6" />
<path d="M260.00,439.40 L259.20,437.20 L260.80,437.20Z" fill="#666"/>
<path d="M260.00,448.70 L260.80,450.90 L259.20,450.90Z" fill="#666"/>
<rect x="269.4" y="439.4" width="152.1" height="9.3" fill="#fff" stroke="#666" stroke-width="0.9"/>
<path d="M272.5,440.5 L270.4,440.5 L270.4,447.6 L272.5,447.6" fill="none" stroke="#333" stroke-width="0.9"/>
<line x1="289.40" y1="439.40" x2="289.40" y2="448.70" stroke="#666" stroke-width="0.7" />
<line x1="270.50" y1="447.40" x2="289.40" y2="447.40" stroke="#777" stroke-width="0.5" />
<rect x="272.3" y="443.1" width="16" height="2.0" rx="1" fill="#8c8c8c"/>
<ellipse cx="273.60" cy="444.1" rx="1.1" ry="0.75" fill="#666"/>
<ellipse cx="276.30" cy="444.1" rx="1.1" ry="0.75" fill="#666"/>
<ellipse cx="279.00" cy="444.1" rx="1.1" ry="0.75" fill="#666"/>
<ellipse cx="281.70" cy="444.1" rx="1.1" ry="0.75" fill="#666"/>
<ellipse cx="284.40" cy="444.1" rx="1.1" ry="0.75" fill="#666"/>
<ellipse cx="287.10" cy="444.1" rx="1.1" ry="0.75" fill="#666"/>
<rect x="272" y="446.6" width="17.2" height="1.6" fill="#bbb"/>
<path d="M289.6,442.9 L299.5,443.1 L301.8,444.1 L299.5,445.1 L289.6,445.3Z" fill="#c6c6c6" stroke="#a0a0a0" stroke-width="0.4"/>
<line x1="359.40" y1="439.40" x2="359.40" y2="448.70" stroke="#555" stroke-width="0.8" />
<rect x="361" y="443.2" width="57.5" height="1.9" rx="0.9" fill="#aaa"/>
<ellipse cx="362.80" cy="444.15" rx="1.5" ry="0.65" fill="#808080"/>
<ellipse cx="367.50" cy="444.15" rx="1.5" ry="0.65" fill="#808080"/>
<ellipse cx="372.20" cy="444.15" rx="1.5" ry="0.65" fill="#808080"/>
<ellipse cx="376.90" cy="444.15" rx="1.5" ry="0.65" fill="#808080"/>
<ellipse cx="381.60" cy="444.15" rx="1.5" ry="0.65" fill="#808080"/>
<ellipse cx="386.30" cy="444.15" rx="1.5" ry="0.65" fill="#808080"/>
<ellipse cx="391.00" cy="444.15" rx="1.5" ry="0.65" fill="#808080"/>
<ellipse cx="395.70" cy="444.15" rx="1.5" ry="0.65" fill="#808080"/>
<ellipse cx="400.40" cy="444.15" rx="1.5" ry="0.65" fill="#808080"/>
<ellipse cx="405.10" cy="444.15" rx="1.5" ry="0.65" fill="#808080"/>
<ellipse cx="409.80" cy="444.15" rx="1.5" ry="0.65" fill="#808080"/>
<ellipse cx="414.50" cy="444.15" rx="1.5" ry="0.65" fill="#808080"/>
<rect x="359.8" y="447.3" width="58" height="1.3" fill="#aaa"/>
<line x1="360.30" y1="447.30" x2="361.10" y2="448.60" stroke="#777" stroke-width="0.5" />
<line x1="362.30" y1="447.30" x2="363.10" y2="448.60" stroke="#777" stroke-width="0.5" />
<line x1="364.30" y1="447.30" x2="365.10" y2="448.60" stroke="#777" stroke-width="0.5" />
<line x1="366.30" y1="447.30" x2="367.10" y2="448.60" stroke="#777" stroke-width="0.5" />
<line x1="368.30" y1="447.30" x2="369.10" y2="448.60" stroke="#777" stroke-width="0.5" />
<line x1="370.30" y1="447.30" x2="371.10" y2="448.60" stroke="#777" stroke-width="0.5" />
<line x1="372.30" y1="447.30" x2="373.10" y2="448.60" stroke="#777" stroke-width="0.5" />
<line x1="374.30" y1="447.30" x2="375.10" y2="448.60" stroke="#777" stroke-width="0.5" />
<line x1="376.30" y1="447.30" x2="377.10" y2="448.60" stroke="#777" stroke-width="0.5" />
<line x1="378.30" y1="447.30" x2="379.10" y2="448.60" stroke="#777" stroke-width="0.5" />
<line x1="380.30" y1="447.30" x2="381.10" y2="448.60" stroke="#777" stroke-width="0.5" />
<line x1="382.30" y1="447.30" x2="383.10" y2="448.60" stroke="#777" stroke-width="0.5" />
<line x1="384.30" y1="447.30" x2="385.10" y2="448.60" stroke="#777" stroke-width="0.5" />
<line x1="386.30" y1="447.30" x2="387.10" y2="448.60" stroke="#777" stroke-width="0.5" />
<line x1="388.30" y1="447.30" x2="389.10" y2="448.60" stroke="#777" stroke-width="0.5" />
<line x1="390.30" y1="447.30" x2="391.10" y2="448.60" stroke="#777" stroke-width="0.5" />
<line x1="392.30" y1="447.30" x2="393.10" y2="448.60" stroke="#777" stroke-width="0.5" />
<line x1="394.30" y1="447.30" x2="395.10" y2="448.60" stroke="#777" stroke-width="0.5" />
<line x1="396.30" y1="447.30" x2="397.10" y2="448.60" stroke="#777" stroke-width="0.5" />
<line x1="398.30" y1="447.30" x2="399.10" y2="448.60" stroke="#777" stroke-width="0.5" />
<line x1="400.30" y1="447.30" x2="401.10" y2="448.60" stroke="#777" stroke-width="0.5" />
<line x1="402.30" y1="447.30" x2="403.10" y2="448.60" stroke="#777" stroke-width="0.5" />
<line x1="404.30" y1="447.30" x2="405.10" y2="448.60" stroke="#777" stroke-width="0.5" />
<line x1="406.30" y1="447.30" x2="407.10" y2="448.60" stroke="#777" stroke-width="0.5" />
<line x1="408.30" y1="447.30" x2="409.10" y2="448.60" stroke="#777" stroke-width="0.5" />
<line x1="410.30" y1="447.30" x2="411.10" y2="448.60" stroke="#777" stroke-width="0.5" />
<line x1="412.30" y1="447.30" x2="413.10" y2="448.60" stroke="#777" stroke-width="0.5" />
<line x1="414.30" y1="447.30" x2="415.10" y2="448.60" stroke="#777" stroke-width="0.5" />
<line x1="416.30" y1="447.30" x2="417.10" y2="448.60" stroke="#777" stroke-width="0.5" />
<path d="M419.3,440.3 L420.9,440.3 L420.9,447.8 L419.3,447.8" fill="none" stroke="#333" stroke-width="0.8"/>
<line x1="269.40" y1="448.70" x2="269.40" y2="461.00" stroke="#9a9a9a" stroke-width="0.6" />
<line x1="289.40" y1="448.70" x2="289.40" y2="461.00" stroke="#9a9a9a" stroke-width="0.6" />
<line x1="266.00" y1="460.00" x2="269.40" y2="460.00" stroke="#9a9a9a" stroke-width="0.7" />
<line x1="289.40" y1="460.00" x2="323.00" y2="460.00" stroke="#9a9a9a" stroke-width="0.7" />
<path d="M269.40,460.00 L267.20,460.80 L267.20,459.20Z" fill="#666"/>
<path d="M289.40,460.00 L291.60,459.20 L291.60,460.80Z" fill="#666"/>
<text x="309.50" y="457.58" text-anchor="middle" font-size="6.6" textLength="27" lengthAdjust="spacingAndGlyphs" fill="#4a4a4a">90.0 [3.54"]</text>
<line x1="359.50" y1="448.70" x2="359.50" y2="461.00" stroke="#9a9a9a" stroke-width="0.6" />
<line x1="421.50" y1="448.70" x2="421.50" y2="461.00" stroke="#9a9a9a" stroke-width="0.6" />
<line x1="359.50" y1="458.80" x2="421.50" y2="458.80" stroke="#9a9a9a" stroke-width="0.7" />
<path d="M359.50,458.80 L361.70,458.00 L361.70,459.60Z" fill="#666"/>
<path d="M421.50,458.80 L419.30,459.60 L419.30,458.00Z" fill="#666"/>
<text x="390.50" y="456.98" text-anchor="middle" font-size="6.6" textLength="31" lengthAdjust="spacingAndGlyphs" fill="#4a4a4a">280.0 [11.02"]</text>
<polygon points="310.90,286.80 381.20,327.40 381.20,332.90 310.90,292.30" fill="#fff" stroke="#444" stroke-width="0.8"/>
<polygon points="381.20,327.40 488.70,265.40 488.70,270.90 381.20,332.90" fill="#fff" stroke="#444" stroke-width="0.8"/>
<polygon points="310.90,286.80 381.20,327.40 488.70,265.40 418.40,224.80" fill="#fff" stroke="#444" stroke-width="0.9"/>
<line x1="383.35" y1="328.36" x2="487.62" y2="268.22" stroke="#777" stroke-width="0.5" />
<line x1="319.67" y1="286.28" x2="324.62" y2="283.43" stroke="#4a4a4a" stroke-width="1.4" stroke-linecap="round"/>
<line x1="322.74" y1="288.05" x2="327.68" y2="285.20" stroke="#4a4a4a" stroke-width="1.4" stroke-linecap="round"/>
<line x1="325.80" y1="289.82" x2="330.75" y2="286.97" stroke="#4a4a4a" stroke-width="1.4" stroke-linecap="round"/>
<line x1="328.87" y1="291.59" x2="333.81" y2="288.74" stroke="#4a4a4a" stroke-width="1.4" stroke-linecap="round"/>
<line x1="331.93" y1="293.36" x2="336.88" y2="290.51" stroke="#4a4a4a" stroke-width="1.4" stroke-linecap="round"/>
<line x1="335.00" y1="295.13" x2="339.94" y2="292.28" stroke="#4a4a4a" stroke-width="1.4" stroke-linecap="round"/>
<line x1="338.06" y1="296.90" x2="343.01" y2="294.05" stroke="#4a4a4a" stroke-width="1.4" stroke-linecap="round"/>
<line x1="341.13" y1="298.67" x2="346.07" y2="295.82" stroke="#4a4a4a" stroke-width="1.4" stroke-linecap="round"/>
<line x1="360.45" y1="309.83" x2="365.39" y2="306.98" stroke="#4a4a4a" stroke-width="1.4" stroke-linecap="round"/>
<line x1="363.51" y1="311.60" x2="368.46" y2="308.75" stroke="#4a4a4a" stroke-width="1.4" stroke-linecap="round"/>
<line x1="366.58" y1="313.37" x2="371.52" y2="310.52" stroke="#4a4a4a" stroke-width="1.4" stroke-linecap="round"/>
<line x1="369.64" y1="315.14" x2="374.59" y2="312.29" stroke="#4a4a4a" stroke-width="1.4" stroke-linecap="round"/>
<line x1="372.71" y1="316.91" x2="377.65" y2="314.06" stroke="#4a4a4a" stroke-width="1.4" stroke-linecap="round"/>
<line x1="375.77" y1="318.68" x2="380.72" y2="315.83" stroke="#4a4a4a" stroke-width="1.4" stroke-linecap="round"/>
<line x1="378.84" y1="320.45" x2="383.78" y2="317.60" stroke="#4a4a4a" stroke-width="1.4" stroke-linecap="round"/>
<line x1="381.90" y1="322.22" x2="386.85" y2="319.37" stroke="#4a4a4a" stroke-width="1.4" stroke-linecap="round"/>
<line x1="327.38" y1="281.84" x2="332.33" y2="278.99" stroke="#4a4a4a" stroke-width="1.4" stroke-linecap="round"/>
<line x1="330.45" y1="283.61" x2="335.39" y2="280.76" stroke="#4a4a4a" stroke-width="1.4" stroke-linecap="round"/>
<line x1="333.51" y1="285.38" x2="338.46" y2="282.53" stroke="#4a4a4a" stroke-width="1.4" stroke-linecap="round"/>
<line x1="336.58" y1="287.15" x2="341.52" y2="284.30" stroke="#4a4a4a" stroke-width="1.4" stroke-linecap="round"/>
<line x1="339.64" y1="288.92" x2="344.59" y2="286.07" stroke="#4a4a4a" stroke-width="1.4" stroke-linecap="round"/>
<line x1="342.71" y1="290.69" x2="347.65" y2="287.84" stroke="#4a4a4a" stroke-width="1.4" stroke-linecap="round"/>
<line x1="345.77" y1="292.46" x2="350.72" y2="289.61" stroke="#4a4a4a" stroke-width="1.4" stroke-linecap="round"/>
<line x1="348.84" y1="294.23" x2="353.78" y2="291.38" stroke="#4a4a4a" stroke-width="1.4" stroke-linecap="round"/>
<line x1="368.16" y1="305.39" x2="373.10" y2="302.53" stroke="#4a4a4a" stroke-width="1.4" stroke-linecap="round"/>
<line x1="371.22" y1="307.16" x2="376.17" y2="304.30" stroke="#4a4a4a" stroke-width="1.4" stroke-linecap="round"/>
<line x1="374.29" y1="308.93" x2="379.23" y2="306.07" stroke="#4a4a4a" stroke-width="1.4" stroke-linecap="round"/>
<line x1="377.35" y1="310.70" x2="382.30" y2="307.84" stroke="#4a4a4a" stroke-width="1.4" stroke-linecap="round"/>
<line x1="380.42" y1="312.47" x2="385.36" y2="309.61" stroke="#4a4a4a" stroke-width="1.4" stroke-linecap="round"/>
<line x1="383.48" y1="314.24" x2="388.43" y2="311.38" stroke="#4a4a4a" stroke-width="1.4" stroke-linecap="round"/>
<line x1="386.55" y1="316.01" x2="391.49" y2="313.16" stroke="#4a4a4a" stroke-width="1.4" stroke-linecap="round"/>
<line x1="389.61" y1="317.78" x2="394.56" y2="314.93" stroke="#4a4a4a" stroke-width="1.4" stroke-linecap="round"/>
<line x1="335.09" y1="277.39" x2="340.03" y2="274.54" stroke="#4a4a4a" stroke-width="1.4" stroke-linecap="round"/>
<line x1="338.15" y1="279.16" x2="343.10" y2="276.31" stroke="#4a4a4a" stroke-width="1.4" stroke-linecap="round"/>
<line x1="341.22" y1="280.93" x2="346.16" y2="278.08" stroke="#4a4a4a" stroke-width="1.4" stroke-linecap="round"/>
<line x1="344.29" y1="282.70" x2="349.23" y2="279.85" stroke="#4a4a4a" stroke-width="1.4" stroke-linecap="round"/>
<line x1="347.35" y1="284.47" x2="352.30" y2="281.62" stroke="#4a4a4a" stroke-width="1.4" stroke-linecap="round"/>
<line x1="350.42" y1="286.24" x2="355.36" y2="283.39" stroke="#4a4a4a" stroke-width="1.4" stroke-linecap="round"/>
<line x1="353.48" y1="288.01" x2="358.43" y2="285.16" stroke="#4a4a4a" stroke-width="1.4" stroke-linecap="round"/>
<line x1="356.55" y1="289.78" x2="361.49" y2="286.93" stroke="#4a4a4a" stroke-width="1.4" stroke-linecap="round"/>
<line x1="375.86" y1="300.94" x2="380.81" y2="298.09" stroke="#4a4a4a" stroke-width="1.4" stroke-linecap="round"/>
<line x1="378.93" y1="302.71" x2="383.87" y2="299.86" stroke="#4a4a4a" stroke-width="1.4" stroke-linecap="round"/>
<line x1="381.99" y1="304.48" x2="386.94" y2="301.63" stroke="#4a4a4a" stroke-width="1.4" stroke-linecap="round"/>
<line x1="385.06" y1="306.25" x2="390.00" y2="303.40" stroke="#4a4a4a" stroke-width="1.4" stroke-linecap="round"/>
<line x1="388.12" y1="308.02" x2="393.07" y2="305.17" stroke="#4a4a4a" stroke-width="1.4" stroke-linecap="round"/>
<line x1="391.19" y1="309.79" x2="396.13" y2="306.94" stroke="#4a4a4a" stroke-width="1.4" stroke-linecap="round"/>
<line x1="394.25" y1="311.56" x2="399.20" y2="308.71" stroke="#4a4a4a" stroke-width="1.4" stroke-linecap="round"/>
<line x1="397.32" y1="313.33" x2="402.26" y2="310.48" stroke="#4a4a4a" stroke-width="1.4" stroke-linecap="round"/>
<line x1="342.80" y1="272.95" x2="347.74" y2="270.10" stroke="#4a4a4a" stroke-width="1.4" stroke-linecap="round"/>
<line x1="345.86" y1="274.72" x2="350.81" y2="271.87" stroke="#4a4a4a" stroke-width="1.4" stroke-linecap="round"/>
<line x1="348.93" y1="276.49" x2="353.87" y2="273.64" stroke="#4a4a4a" stroke-width="1.4" stroke-linecap="round"/>
<line x1="351.99" y1="278.26" x2="356.94" y2="275.41" stroke="#4a4a4a" stroke-width="1.4" stroke-linecap="round"/>
<line x1="355.06" y1="280.03" x2="360.00" y2="277.18" stroke="#4a4a4a" stroke-width="1.4" stroke-linecap="round"/>
<line x1="358.12" y1="281.80" x2="363.07" y2="278.95" stroke="#4a4a4a" stroke-width="1.4" stroke-linecap="round"/>
<line x1="361.19" y1="283.57" x2="366.13" y2="280.72" stroke="#4a4a4a" stroke-width="1.4" stroke-linecap="round"/>
<line x1="364.25" y1="285.34" x2="369.20" y2="282.49" stroke="#4a4a4a" stroke-width="1.4" stroke-linecap="round"/>
<line x1="383.57" y1="296.50" x2="388.52" y2="293.64" stroke="#4a4a4a" stroke-width="1.4" stroke-linecap="round"/>
<line x1="386.64" y1="298.27" x2="391.58" y2="295.41" stroke="#4a4a4a" stroke-width="1.4" stroke-linecap="round"/>
<line x1="389.70" y1="300.04" x2="394.65" y2="297.18" stroke="#4a4a4a" stroke-width="1.4" stroke-linecap="round"/>
<line x1="392.77" y1="301.81" x2="397.71" y2="298.95" stroke="#4a4a4a" stroke-width="1.4" stroke-linecap="round"/>
<line x1="395.83" y1="303.58" x2="400.78" y2="300.72" stroke="#4a4a4a" stroke-width="1.4" stroke-linecap="round"/>
<line x1="398.90" y1="305.35" x2="403.84" y2="302.49" stroke="#4a4a4a" stroke-width="1.4" stroke-linecap="round"/>
<line x1="401.96" y1="307.12" x2="406.91" y2="304.26" stroke="#4a4a4a" stroke-width="1.4" stroke-linecap="round"/>
<line x1="405.03" y1="308.89" x2="409.97" y2="306.03" stroke="#4a4a4a" stroke-width="1.4" stroke-linecap="round"/>
<line x1="350.51" y1="268.50" x2="355.45" y2="265.65" stroke="#4a4a4a" stroke-width="1.4" stroke-linecap="round"/>
<line x1="353.57" y1="270.27" x2="358.52" y2="267.42" stroke="#4a4a4a" stroke-width="1.4" stroke-linecap="round"/>
<line x1="356.64" y1="272.04" x2="361.58" y2="269.19" stroke="#4a4a4a" stroke-width="1.4" stroke-linecap="round"/>
<line x1="359.70" y1="273.81" x2="364.65" y2="270.96" stroke="#4a4a4a" stroke-width="1.4" stroke-linecap="round"/>
<line x1="362.77" y1="275.58" x2="367.71" y2="272.73" stroke="#4a4a4a" stroke-width="1.4" stroke-linecap="round"/>
<line x1="365.83" y1="277.35" x2="370.78" y2="274.50" stroke="#4a4a4a" stroke-width="1.4" stroke-linecap="round"/>
<line x1="368.90" y1="279.12" x2="373.84" y2="276.27" stroke="#4a4a4a" stroke-width="1.4" stroke-linecap="round"/>
<line x1="371.96" y1="280.89" x2="376.91" y2="278.04" stroke="#4a4a4a" stroke-width="1.4" stroke-linecap="round"/>
<line x1="391.28" y1="292.05" x2="396.22" y2="289.20" stroke="#4a4a4a" stroke-width="1.4" stroke-linecap="round"/>
<line x1="394.34" y1="293.82" x2="399.29" y2="290.97" stroke="#4a4a4a" stroke-width="1.4" stroke-linecap="round"/>
<line x1="397.41" y1="295.59" x2="402.35" y2="292.74" stroke="#4a4a4a" stroke-width="1.4" stroke-linecap="round"/>
<line x1="400.47" y1="297.36" x2="405.42" y2="294.51" stroke="#4a4a4a" stroke-width="1.4" stroke-linecap="round"/>
<line x1="403.54" y1="299.13" x2="408.48" y2="296.28" stroke="#4a4a4a" stroke-width="1.4" stroke-linecap="round"/>
<line x1="406.60" y1="300.90" x2="411.55" y2="298.05" stroke="#4a4a4a" stroke-width="1.4" stroke-linecap="round"/>
<line x1="409.67" y1="302.67" x2="414.61" y2="299.82" stroke="#4a4a4a" stroke-width="1.4" stroke-linecap="round"/>
<line x1="412.73" y1="304.44" x2="417.68" y2="301.59" stroke="#4a4a4a" stroke-width="1.4" stroke-linecap="round"/>
<line x1="358.21" y1="264.06" x2="363.16" y2="261.20" stroke="#4a4a4a" stroke-width="1.4" stroke-linecap="round"/>
<line x1="361.28" y1="265.83" x2="366.22" y2="262.97" stroke="#4a4a4a" stroke-width="1.4" stroke-linecap="round"/>
<line x1="364.34" y1="267.60" x2="369.29" y2="264.74" stroke="#4a4a4a" stroke-width="1.4" stroke-linecap="round"/>
<line x1="367.41" y1="269.37" x2="372.35" y2="266.52" stroke="#4a4a4a" stroke-width="1.4" stroke-linecap="round"/>
<line x1="370.47" y1="271.14" x2="375.42" y2="268.29" stroke="#4a4a4a" stroke-width="1.4" stroke-linecap="round"/>
<line x1="373.54" y1="272.91" x2="378.48" y2="270.06" stroke="#4a4a4a" stroke-width="1.4" stroke-linecap="round"/>
<line x1="376.60" y1="274.68" x2="381.55" y2="271.83" stroke="#4a4a4a" stroke-width="1.4" stroke-linecap="round"/>
<line x1="379.67" y1="276.45" x2="384.61" y2="273.60" stroke="#4a4a4a" stroke-width="1.4" stroke-linecap="round"/>
<line x1="398.99" y1="287.60" x2="403.93" y2="284.75" stroke="#4a4a4a" stroke-width="1.4" stroke-linecap="round"/>
<line x1="402.05" y1="289.37" x2="407.00" y2="286.52" stroke="#4a4a4a" stroke-width="1.4" stroke-linecap="round"/>
<line x1="405.12" y1="291.14" x2="410.06" y2="288.29" stroke="#4a4a4a" stroke-width="1.4" stroke-linecap="round"/>
<line x1="408.18" y1="292.92" x2="413.13" y2="290.06" stroke="#4a4a4a" stroke-width="1.4" stroke-linecap="round"/>
<line x1="411.25" y1="294.69" x2="416.19" y2="291.83" stroke="#4a4a4a" stroke-width="1.4" stroke-linecap="round"/>
<line x1="414.31" y1="296.46" x2="419.26" y2="293.60" stroke="#4a4a4a" stroke-width="1.4" stroke-linecap="round"/>
<line x1="417.38" y1="298.23" x2="422.32" y2="295.37" stroke="#4a4a4a" stroke-width="1.4" stroke-linecap="round"/>
<line x1="420.44" y1="300.00" x2="425.39" y2="297.14" stroke="#4a4a4a" stroke-width="1.4" stroke-linecap="round"/>
<line x1="365.92" y1="259.61" x2="370.87" y2="256.76" stroke="#4a4a4a" stroke-width="1.4" stroke-linecap="round"/>
<line x1="368.99" y1="261.38" x2="373.93" y2="258.53" stroke="#4a4a4a" stroke-width="1.4" stroke-linecap="round"/>
<line x1="372.05" y1="263.15" x2="377.00" y2="260.30" stroke="#4a4a4a" stroke-width="1.4" stroke-linecap="round"/>
<line x1="375.12" y1="264.92" x2="380.06" y2="262.07" stroke="#4a4a4a" stroke-width="1.4" stroke-linecap="round"/>
<line x1="378.18" y1="266.69" x2="383.13" y2="263.84" stroke="#4a4a4a" stroke-width="1.4" stroke-linecap="round"/>
<line x1="381.25" y1="268.46" x2="386.19" y2="265.61" stroke="#4a4a4a" stroke-width="1.4" stroke-linecap="round"/>
<line x1="384.31" y1="270.23" x2="389.26" y2="267.38" stroke="#4a4a4a" stroke-width="1.4" stroke-linecap="round"/>
<line x1="387.38" y1="272.00" x2="392.32" y2="269.15" stroke="#4a4a4a" stroke-width="1.4" stroke-linecap="round"/>
<line x1="406.69" y1="283.16" x2="411.64" y2="280.31" stroke="#4a4a4a" stroke-width="1.4" stroke-linecap="round"/>
<line x1="409.76" y1="284.93" x2="414.70" y2="282.08" stroke="#4a4a4a" stroke-width="1.4" stroke-linecap="round"/>
<line x1="412.82" y1="286.70" x2="417.77" y2="283.85" stroke="#4a4a4a" stroke-width="1.4" stroke-linecap="round"/>
<line x1="415.89" y1="288.47" x2="420.84" y2="285.62" stroke="#4a4a4a" stroke-width="1.4" stroke-linecap="round"/>
<line x1="418.96" y1="290.24" x2="423.90" y2="287.39" stroke="#4a4a4a" stroke-width="1.4" stroke-linecap="round"/>
<line x1="422.02" y1="292.01" x2="426.97" y2="289.16" stroke="#4a4a4a" stroke-width="1.4" stroke-linecap="round"/>
<line x1="425.09" y1="293.78" x2="430.03" y2="290.93" stroke="#4a4a4a" stroke-width="1.4" stroke-linecap="round"/>
<line x1="428.15" y1="295.55" x2="433.10" y2="292.70" stroke="#4a4a4a" stroke-width="1.4" stroke-linecap="round"/>
<line x1="373.63" y1="255.17" x2="378.57" y2="252.31" stroke="#4a4a4a" stroke-width="1.4" stroke-linecap="round"/>
<line x1="376.69" y1="256.94" x2="381.64" y2="254.08" stroke="#4a4a4a" stroke-width="1.4" stroke-linecap="round"/>
<line x1="379.76" y1="258.71" x2="384.70" y2="255.85" stroke="#4a4a4a" stroke-width="1.4" stroke-linecap="round"/>
<line x1="382.82" y1="260.48" x2="387.77" y2="257.62" stroke="#4a4a4a" stroke-width="1.4" stroke-linecap="round"/>
<line x1="385.89" y1="262.25" x2="390.83" y2="259.39" stroke="#4a4a4a" stroke-width="1.4" stroke-linecap="round"/>
<line x1="388.95" y1="264.02" x2="393.90" y2="261.16" stroke="#4a4a4a" stroke-width="1.4" stroke-linecap="round"/>
<line x1="392.02" y1="265.79" x2="396.96" y2="262.93" stroke="#4a4a4a" stroke-width="1.4" stroke-linecap="round"/>
<line x1="395.08" y1="267.56" x2="400.03" y2="264.70" stroke="#4a4a4a" stroke-width="1.4" stroke-linecap="round"/>
<line x1="414.40" y1="278.71" x2="419.35" y2="275.86" stroke="#4a4a4a" stroke-width="1.4" stroke-linecap="round"/>
<line x1="417.47" y1="280.48" x2="422.41" y2="277.63" stroke="#4a4a4a" stroke-width="1.4" stroke-linecap="round"/>
<line x1="420.53" y1="282.25" x2="425.48" y2="279.40" stroke="#4a4a4a" stroke-width="1.4" stroke-linecap="round"/>
<line x1="423.60" y1="284.02" x2="428.54" y2="281.17" stroke="#4a4a4a" stroke-width="1.4" stroke-linecap="round"/>
<line x1="426.66" y1="285.79" x2="431.61" y2="282.94" stroke="#4a4a4a" stroke-width="1.4" stroke-linecap="round"/>
<line x1="429.73" y1="287.56" x2="434.67" y2="284.71" stroke="#4a4a4a" stroke-width="1.4" stroke-linecap="round"/>
<line x1="432.79" y1="289.33" x2="437.74" y2="286.48" stroke="#4a4a4a" stroke-width="1.4" stroke-linecap="round"/>
<line x1="435.86" y1="291.10" x2="440.80" y2="288.25" stroke="#4a4a4a" stroke-width="1.4" stroke-linecap="round"/>
<line x1="381.34" y1="250.72" x2="386.28" y2="247.87" stroke="#4a4a4a" stroke-width="1.4" stroke-linecap="round"/>
<line x1="384.40" y1="252.49" x2="389.35" y2="249.64" stroke="#4a4a4a" stroke-width="1.4" stroke-linecap="round"/>
<line x1="387.47" y1="254.26" x2="392.41" y2="251.41" stroke="#4a4a4a" stroke-width="1.4" stroke-linecap="round"/>
<line x1="390.53" y1="256.03" x2="395.48" y2="253.18" stroke="#4a4a4a" stroke-width="1.4" stroke-linecap="round"/>
<line x1="393.60" y1="257.80" x2="398.54" y2="254.95" stroke="#4a4a4a" stroke-width="1.4" stroke-linecap="round"/>
<line x1="396.66" y1="259.57" x2="401.61" y2="256.72" stroke="#4a4a4a" stroke-width="1.4" stroke-linecap="round"/>
<line x1="399.73" y1="261.34" x2="404.67" y2="258.49" stroke="#4a4a4a" stroke-width="1.4" stroke-linecap="round"/>
<line x1="402.79" y1="263.11" x2="407.74" y2="260.26" stroke="#4a4a4a" stroke-width="1.4" stroke-linecap="round"/>
<line x1="422.11" y1="274.27" x2="427.06" y2="271.42" stroke="#4a4a4a" stroke-width="1.4" stroke-linecap="round"/>
<line x1="425.18" y1="276.04" x2="430.12" y2="273.19" stroke="#4a4a4a" stroke-width="1.4" stroke-linecap="round"/>
<line x1="428.24" y1="277.81" x2="433.19" y2="274.96" stroke="#4a4a4a" stroke-width="1.4" stroke-linecap="round"/>
<line x1="431.31" y1="279.58" x2="436.25" y2="276.73" stroke="#4a4a4a" stroke-width="1.4" stroke-linecap="round"/>
<line x1="434.37" y1="281.35" x2="439.32" y2="278.50" stroke="#4a4a4a" stroke-width="1.4" stroke-linecap="round"/>
<line x1="437.44" y1="283.12" x2="442.38" y2="280.27" stroke="#4a4a4a" stroke-width="1.4" stroke-linecap="round"/>
<line x1="440.50" y1="284.89" x2="445.45" y2="282.04" stroke="#4a4a4a" stroke-width="1.4" stroke-linecap="round"/>
<line x1="443.57" y1="286.66" x2="448.51" y2="283.81" stroke="#4a4a4a" stroke-width="1.4" stroke-linecap="round"/>
<line x1="389.04" y1="246.28" x2="393.99" y2="243.42" stroke="#4a4a4a" stroke-width="1.4" stroke-linecap="round"/>
<line x1="392.11" y1="248.05" x2="397.05" y2="245.19" stroke="#4a4a4a" stroke-width="1.4" stroke-linecap="round"/>
<line x1="395.17" y1="249.82" x2="400.12" y2="246.96" stroke="#4a4a4a" stroke-width="1.4" stroke-linecap="round"/>
<line x1="398.24" y1="251.59" x2="403.18" y2="248.73" stroke="#4a4a4a" stroke-width="1.4" stroke-linecap="round"/>
<line x1="401.30" y1="253.36" x2="406.25" y2="250.50" stroke="#4a4a4a" stroke-width="1.4" stroke-linecap="round"/>
<line x1="404.37" y1="255.13" x2="409.31" y2="252.27" stroke="#4a4a4a" stroke-width="1.4" stroke-linecap="round"/>
<line x1="407.43" y1="256.90" x2="412.38" y2="254.04" stroke="#4a4a4a" stroke-width="1.4" stroke-linecap="round"/>
<line x1="410.50" y1="258.67" x2="415.44" y2="255.81" stroke="#4a4a4a" stroke-width="1.4" stroke-linecap="round"/>
<line x1="429.82" y1="269.82" x2="434.76" y2="266.97" stroke="#4a4a4a" stroke-width="1.4" stroke-linecap="round"/>
<line x1="432.88" y1="271.59" x2="437.83" y2="268.74" stroke="#4a4a4a" stroke-width="1.4" stroke-linecap="round"/>
<line x1="435.95" y1="273.36" x2="440.89" y2="270.51" stroke="#4a4a4a" stroke-width="1.4" stroke-linecap="round"/>
<line x1="439.01" y1="275.13" x2="443.96" y2="272.28" stroke="#4a4a4a" stroke-width="1.4" stroke-linecap="round"/>
<line x1="442.08" y1="276.90" x2="447.02" y2="274.05" stroke="#4a4a4a" stroke-width="1.4" stroke-linecap="round"/>
<line x1="445.14" y1="278.67" x2="450.09" y2="275.82" stroke="#4a4a4a" stroke-width="1.4" stroke-linecap="round"/>
<line x1="448.21" y1="280.44" x2="453.15" y2="277.59" stroke="#4a4a4a" stroke-width="1.4" stroke-linecap="round"/>
<line x1="451.27" y1="282.21" x2="456.22" y2="279.36" stroke="#4a4a4a" stroke-width="1.4" stroke-linecap="round"/>
<line x1="396.75" y1="241.83" x2="401.70" y2="238.98" stroke="#4a4a4a" stroke-width="1.4" stroke-linecap="round"/>
<line x1="399.82" y1="243.60" x2="404.76" y2="240.75" stroke="#4a4a4a" stroke-width="1.4" stroke-linecap="round"/>
<line x1="402.88" y1="245.37" x2="407.83" y2="242.52" stroke="#4a4a4a" stroke-width="1.4" stroke-linecap="round"/>
<line x1="405.95" y1="247.14" x2="410.89" y2="244.29" stroke="#4a4a4a" stroke-width="1.4" stroke-linecap="round"/>
<line x1="409.01" y1="248.91" x2="413.96" y2="246.06" stroke="#4a4a4a" stroke-width="1.4" stroke-linecap="round"/>
<line x1="412.08" y1="250.68" x2="417.02" y2="247.83" stroke="#4a4a4a" stroke-width="1.4" stroke-linecap="round"/>
<line x1="415.14" y1="252.45" x2="420.09" y2="249.60" stroke="#4a4a4a" stroke-width="1.4" stroke-linecap="round"/>
<line x1="418.21" y1="254.22" x2="423.15" y2="251.37" stroke="#4a4a4a" stroke-width="1.4" stroke-linecap="round"/>
<line x1="437.53" y1="265.38" x2="442.47" y2="262.53" stroke="#4a4a4a" stroke-width="1.4" stroke-linecap="round"/>
<line x1="440.59" y1="267.15" x2="445.54" y2="264.30" stroke="#4a4a4a" stroke-width="1.4" stroke-linecap="round"/>
<line x1="443.66" y1="268.92" x2="448.60" y2="266.07" stroke="#4a4a4a" stroke-width="1.4" stroke-linecap="round"/>
<line x1="446.72" y1="270.69" x2="451.67" y2="267.84" stroke="#4a4a4a" stroke-width="1.4" stroke-linecap="round"/>
<line x1="449.79" y1="272.46" x2="454.73" y2="269.61" stroke="#4a4a4a" stroke-width="1.4" stroke-linecap="round"/>
<line x1="452.85" y1="274.23" x2="457.80" y2="271.38" stroke="#4a4a4a" stroke-width="1.4" stroke-linecap="round"/>
<line x1="455.92" y1="276.00" x2="460.86" y2="273.15" stroke="#4a4a4a" stroke-width="1.4" stroke-linecap="round"/>
<line x1="458.98" y1="277.77" x2="463.93" y2="274.92" stroke="#4a4a4a" stroke-width="1.4" stroke-linecap="round"/>
<line x1="404.46" y1="237.38" x2="409.40" y2="234.53" stroke="#4a4a4a" stroke-width="1.4" stroke-linecap="round"/>
<line x1="407.52" y1="239.15" x2="412.47" y2="236.30" stroke="#4a4a4a" stroke-width="1.4" stroke-linecap="round"/>
<line x1="410.59" y1="240.92" x2="415.53" y2="238.07" stroke="#4a4a4a" stroke-width="1.4" stroke-linecap="round"/>
<line x1="413.65" y1="242.69" x2="418.60" y2="239.84" stroke="#4a4a4a" stroke-width="1.4" stroke-linecap="round"/>
<line x1="416.72" y1="244.46" x2="421.66" y2="241.61" stroke="#4a4a4a" stroke-width="1.4" stroke-linecap="round"/>
<line x1="419.78" y1="246.23" x2="424.73" y2="243.38" stroke="#4a4a4a" stroke-width="1.4" stroke-linecap="round"/>
<line x1="422.85" y1="248.01" x2="427.80" y2="245.15" stroke="#4a4a4a" stroke-width="1.4" stroke-linecap="round"/>
<line x1="425.92" y1="249.78" x2="430.86" y2="246.92" stroke="#4a4a4a" stroke-width="1.4" stroke-linecap="round"/>
<line x1="445.23" y1="260.93" x2="450.18" y2="258.08" stroke="#4a4a4a" stroke-width="1.4" stroke-linecap="round"/>
<line x1="448.30" y1="262.70" x2="453.24" y2="259.85" stroke="#4a4a4a" stroke-width="1.4" stroke-linecap="round"/>
<line x1="451.36" y1="264.47" x2="456.31" y2="261.62" stroke="#4a4a4a" stroke-width="1.4" stroke-linecap="round"/>
<line x1="454.43" y1="266.24" x2="459.37" y2="263.39" stroke="#4a4a4a" stroke-width="1.4" stroke-linecap="round"/>
<line x1="457.49" y1="268.01" x2="462.44" y2="265.16" stroke="#4a4a4a" stroke-width="1.4" stroke-linecap="round"/>
<line x1="460.56" y1="269.78" x2="465.50" y2="266.93" stroke="#4a4a4a" stroke-width="1.4" stroke-linecap="round"/>
<line x1="463.62" y1="271.55" x2="468.57" y2="268.70" stroke="#4a4a4a" stroke-width="1.4" stroke-linecap="round"/>
<line x1="466.69" y1="273.32" x2="471.63" y2="270.47" stroke="#4a4a4a" stroke-width="1.4" stroke-linecap="round"/>
<line x1="412.17" y1="232.94" x2="417.11" y2="230.09" stroke="#4a4a4a" stroke-width="1.4" stroke-linecap="round"/>
<line x1="415.23" y1="234.71" x2="420.18" y2="231.86" stroke="#4a4a4a" stroke-width="1.4" stroke-linecap="round"/>
<line x1="418.30" y1="236.48" x2="423.24" y2="233.63" stroke="#4a4a4a" stroke-width="1.4" stroke-linecap="round"/>
<line x1="421.36" y1="238.25" x2="426.31" y2="235.40" stroke="#4a4a4a" stroke-width="1.4" stroke-linecap="round"/>
<line x1="424.43" y1="240.02" x2="429.37" y2="237.17" stroke="#4a4a4a" stroke-width="1.4" stroke-linecap="round"/>
<line x1="427.49" y1="241.79" x2="432.44" y2="238.94" stroke="#4a4a4a" stroke-width="1.4" stroke-linecap="round"/>
<line x1="430.56" y1="243.56" x2="435.50" y2="240.71" stroke="#4a4a4a" stroke-width="1.4" stroke-linecap="round"/>
<line x1="433.62" y1="245.33" x2="438.57" y2="242.48" stroke="#4a4a4a" stroke-width="1.4" stroke-linecap="round"/>
<line x1="452.94" y1="256.49" x2="457.89" y2="253.63" stroke="#4a4a4a" stroke-width="1.4" stroke-linecap="round"/>
<line x1="456.01" y1="258.26" x2="460.95" y2="255.40" stroke="#4a4a4a" stroke-width="1.4" stroke-linecap="round"/>
<line x1="459.07" y1="260.03" x2="464.02" y2="257.18" stroke="#4a4a4a" stroke-width="1.4" stroke-linecap="round"/>
<line x1="462.14" y1="261.80" x2="467.08" y2="258.95" stroke="#4a4a4a" stroke-width="1.4" stroke-linecap="round"/>
<line x1="465.20" y1="263.57" x2="470.15" y2="260.72" stroke="#4a4a4a" stroke-width="1.4" stroke-linecap="round"/>
<line x1="468.27" y1="265.34" x2="473.21" y2="262.49" stroke="#4a4a4a" stroke-width="1.4" stroke-linecap="round"/>
<line x1="471.33" y1="267.11" x2="476.28" y2="264.26" stroke="#4a4a4a" stroke-width="1.4" stroke-linecap="round"/>
<line x1="474.40" y1="268.88" x2="479.34" y2="266.03" stroke="#4a4a4a" stroke-width="1.4" stroke-linecap="round"/>
<polygon points="314.27,289.95 319.48,292.95 319.48,296.35 314.27,293.35" fill="#dcdcdc" stroke="#444" stroke-width="0.55"/>
<line x1="314.84" y1="291.37" x2="318.91" y2="293.73" stroke="#555" stroke-width="0.6" />
<line x1="314.84" y1="292.57" x2="318.91" y2="294.93" stroke="#555" stroke-width="0.6" />
<polygon points="322.92,294.94 328.12,297.95 328.12,301.35 322.92,298.34" fill="#dcdcdc" stroke="#444" stroke-width="0.55"/>
<line x1="323.48" y1="296.37" x2="327.56" y2="298.72" stroke="#555" stroke-width="0.6" />
<line x1="323.48" y1="297.57" x2="327.56" y2="299.92" stroke="#555" stroke-width="0.6" />
<polygon points="332.27,300.34 337.47,303.35 337.47,306.75 332.27,303.74" fill="#dcdcdc" stroke="#444" stroke-width="0.55"/>
<line x1="332.83" y1="301.77" x2="336.91" y2="304.12" stroke="#555" stroke-width="0.6" />
<line x1="332.83" y1="302.97" x2="336.91" y2="305.32" stroke="#555" stroke-width="0.6" />
<polygon points="343.24,306.68 348.44,309.68 348.44,313.08 343.24,310.08" fill="#dcdcdc" stroke="#444" stroke-width="0.55"/>
<line x1="343.80" y1="308.10" x2="347.88" y2="310.46" stroke="#555" stroke-width="0.6" />
<line x1="343.80" y1="309.30" x2="347.88" y2="311.66" stroke="#555" stroke-width="0.6" />
<polygon points="354.13,312.97 359.34,315.97 359.34,319.37 354.13,316.37" fill="#dcdcdc" stroke="#444" stroke-width="0.55"/>
<line x1="354.70" y1="314.39" x2="358.77" y2="316.75" stroke="#555" stroke-width="0.6" />
<line x1="354.70" y1="315.59" x2="358.77" y2="317.95" stroke="#555" stroke-width="0.6" />
<polygon points="363.48,318.37 368.69,321.37 368.69,324.77 363.48,321.77" fill="#dcdcdc" stroke="#444" stroke-width="0.55"/>
<line x1="364.05" y1="319.79" x2="368.12" y2="322.15" stroke="#555" stroke-width="0.6" />
<line x1="364.05" y1="320.99" x2="368.12" y2="323.35" stroke="#555" stroke-width="0.6" />
<polygon points="372.13,323.36 377.33,326.37 377.33,329.77 372.13,326.76" fill="#dcdcdc" stroke="#444" stroke-width="0.55"/>
<line x1="372.69" y1="324.79" x2="376.77" y2="327.14" stroke="#555" stroke-width="0.6" />
<line x1="372.69" y1="325.99" x2="376.77" y2="328.34" stroke="#555" stroke-width="0.6" />
<polyline points="316.1,297.2 316.1,333.1 331,341" fill="none" stroke="#555" stroke-width="0.6"/>
<circle cx="331" cy="341" r="1.35" fill="#222"/>
<polyline points="326.3,301.9 326.3,325.3 341.1,334.7" fill="none" stroke="#555" stroke-width="0.6"/>
<circle cx="341.1" cy="334.7" r="1.35" fill="#222"/>
<polyline points="374.5,329.4 374.5,362.2 356.9,352.8" fill="none" stroke="#555" stroke-width="0.6"/>
<circle cx="356.9" cy="352.8" r="1.35" fill="#222"/>
<polyline points="384.6,334 384.6,356.7 366.9,346.9" fill="none" stroke="#555" stroke-width="0.6"/>
<circle cx="366.9" cy="346.9" r="1.35" fill="#222"/>
<polyline points="478.6,278.4 478.6,294.2" fill="none" stroke="#555" stroke-width="0.7"/>
<polyline points="460.2,289 460.2,313.4 442.4,303.1" fill="none" stroke="#555" stroke-width="0.6"/>
<polyline points="461.4,292.3 478.8,302.3" fill="none" stroke="#555" stroke-width="0.5"/>
<circle cx="442.4" cy="303.1" r="1.15" fill="#222"/>
<circle cx="461.4" cy="292.3" r="1.0" fill="#222"/>
<path d="M349.75,213.75 L353.07,214.41 L350.85,211.85Z" fill="#333"/>
<circle cx="350.3" cy="212.8" r="1.25" fill="#222"/>
<path d="M368.45,203.15 L371.77,203.81 L369.55,201.25Z" fill="#333"/>
<circle cx="369" cy="202.2" r="1.25" fill="#222"/>
<path d="M274.25,257.55 L277.57,258.21 L275.35,255.65Z" fill="#333"/>
<circle cx="274.8" cy="256.6" r="1.25" fill="#222"/>
<path d="M263.85,263.65 L267.17,264.31 L264.95,261.75Z" fill="#333"/>
<circle cx="264.4" cy="262.7" r="1.25" fill="#222"/>
<path d="M540.25,298.85 L536.93,298.19 L539.15,300.75Z" fill="#333"/>
<circle cx="539.7" cy="299.8" r="1.25" fill="#222"/>
<path d="M520.95,310.35 L517.63,309.69 L519.85,312.25Z" fill="#333"/>
<circle cx="520.4" cy="311.3" r="1.25" fill="#222"/>
<path d="M435.05,360.45 L431.73,359.79 L433.95,362.35Z" fill="#333"/>
<circle cx="434.5" cy="361.4" r="1.25" fill="#222"/>
<path d="M445.85,354.35 L442.53,353.69 L444.75,356.25Z" fill="#333"/>
<circle cx="445.3" cy="355.3" r="1.25" fill="#222"/>
<polygon points="350.6,236.2 392.2,211.4 394.4,211.6 394.4,219.4 352.2,243.6 350.6,242.4" fill="#fbfbfb" stroke="#444" stroke-width="0.8" stroke-linejoin="round"/>
<line x1="351.60" y1="237.20" x2="393.60" y2="212.60" stroke="#999" stroke-width="0.4" />
<line x1="351.60" y1="238.10" x2="393.60" y2="213.50" stroke="#999" stroke-width="0.4" />
<line x1="351.60" y1="239.40" x2="393.60" y2="214.80" stroke="#333" stroke-width="0.9" />
<line x1="351.60" y1="241.80" x2="393.60" y2="217.20" stroke="#666" stroke-width="0.5" />
<polygon points="391.6,208.8 393.2,207.8 394.6,209.4 394.6,212 391.6,212" fill="#666"/>
<polygon points="284.3,272.4 298.3,264.3 299.8,265.2 299.8,273.6 285,281" fill="#f2f2f2" stroke="#444" stroke-width="0.7" stroke-linejoin="round"/>
<line x1="285.20" y1="274.60" x2="299.20" y2="266.80" stroke="#777" stroke-width="0.5" />
<line x1="285.20" y1="275.80" x2="299.20" y2="268.00" stroke="#777" stroke-width="0.5" />
<line x1="286.60" y1="277.00" x2="296.50" y2="271.20" stroke="#333" stroke-width="0.8" />
<rect x="281.8" y="272.2" width="2.9" height="8.3" rx="0.8" fill="#fafafa" stroke="#222" stroke-width="0.9"/>
<polygon points="468.6,302 514.5,279.5 516.3,281 516.3,287.6 470.6,311 468.6,309.5" fill="#fbfbfb" stroke="#444" stroke-width="0.8" stroke-linejoin="round"/>
<line x1="469.80" y1="303.30" x2="515.30" y2="281.10" stroke="#999" stroke-width="0.4" />
<line x1="469.80" y1="304.20" x2="515.30" y2="282.00" stroke="#999" stroke-width="0.4" />
<line x1="469.80" y1="305.50" x2="515.30" y2="283.30" stroke="#333" stroke-width="0.9" />
<line x1="469.80" y1="307.90" x2="515.30" y2="285.70" stroke="#666" stroke-width="0.5" />
<rect x="513.2" y="279.6" width="3.3" height="7.6" fill="none" stroke="#444" stroke-width="0.6"/>
<polygon points="406.2,341.2 417.4,332.8 418.8,333.6 418.8,340.2 406.8,347.5" fill="#f2f2f2" stroke="#444" stroke-width="0.7" stroke-linejoin="round"/>
<line x1="407.00" y1="343.20" x2="418.20" y2="336.60" stroke="#333" stroke-width="0.8" />
<line x1="407.00" y1="345.20" x2="418.20" y2="338.60" stroke="#888" stroke-width="0.5" />
<rect x="404.0" y="340.6" width="2.7" height="10.6" rx="0.6" fill="#fafafa" stroke="#222" stroke-width="0.9"/>
<line x1="350.30" y1="212.80" x2="392.80" y2="238.00" stroke="#444" stroke-width="0.6" />
<line x1="369.00" y1="202.20" x2="412.50" y2="227.30" stroke="#444" stroke-width="0.6" />
<line x1="274.80" y1="256.60" x2="316.90" y2="281.30" stroke="#444" stroke-width="0.6" />
<line x1="264.40" y1="262.70" x2="310.30" y2="288.40" stroke="#444" stroke-width="0.6" />
<line x1="488.90" y1="271.30" x2="539.70" y2="299.80" stroke="#444" stroke-width="0.6" />
<line x1="468.80" y1="283.30" x2="520.40" y2="311.30" stroke="#444" stroke-width="0.6" />
<line x1="385.30" y1="331.70" x2="434.50" y2="361.40" stroke="#444" stroke-width="0.6" />
<line x1="394.70" y1="326.30" x2="445.00" y2="355.50" stroke="#444" stroke-width="0.6" />
<line x1="324.80" y1="197.80" x2="347.5" y2="211.6" stroke="#aaa" stroke-width="0.6"/>
<circle cx="324.8" cy="197.8" r="5.5" fill="#fff" stroke="#555" stroke-width="0.8"/>
<text x="324.8" y="200.3" text-anchor="middle" font-size="7" fill="#555">4</text>
<line x1="508.70" y1="226.30" x2="450.2" y2="246.9" stroke="#aaa" stroke-width="0.6"/>
<circle cx="508.7" cy="226.3" r="5.5" fill="#fff" stroke="#555" stroke-width="0.8"/>
<text x="508.7" y="228.8" text-anchor="middle" font-size="7" fill="#555">1</text>
<line x1="502.10" y1="325.20" x2="479.8" y2="306.9" stroke="#aaa" stroke-width="0.6"/>
<circle cx="502.1" cy="325.2" r="5.5" fill="#fff" stroke="#555" stroke-width="0.8"/>
<text x="502.1" y="327.7" text-anchor="middle" font-size="7" fill="#555">3</text>
<line x1="409.50" y1="376.60" x2="405.6" y2="350.5" stroke="#aaa" stroke-width="0.6"/>
<circle cx="409.5" cy="376.6" r="5.5" fill="#fff" stroke="#555" stroke-width="0.8"/>
<text x="409.5" y="379.1" text-anchor="middle" font-size="7" fill="#555">2</text>
<line x1="302.50" y1="349.50" x2="331" y2="341" stroke="#aaa" stroke-width="0.6"/>
<circle cx="302.5" cy="349.5" r="5.5" fill="#fff" stroke="#555" stroke-width="0.8"/>
<text x="302.5" y="352.0" text-anchor="middle" font-size="7" fill="#555">5</text>
<path d="M97.5,509.4 H542.7 Q543.7,509.4 543.7,510.4 V537.7 Q543.7,543.7 537.7,543.7 H102.5 Q96.5,543.7 96.5,537.7 V510.4 Q96.5,509.4 97.5,509.4 Z" fill="#000"/>
<text x="457.5" y="528" font-size="14.2" fill="#e8e8e8" stroke="#e8e8e8" stroke-width="0.25" textLength="43.8" lengthAdjust="spacingAndGlyphs">StarTech</text>
<text x="508.3" y="528" font-size="14.2" fill="#e8e8e8" stroke="#e8e8e8" stroke-width="0.25" textLength="21.2" lengthAdjust="spacingAndGlyphs">com</text>
<circle cx="504.3" cy="527.0" r="2.8" fill="#e2c040"/>
<text x="481.3" y="536.8" font-size="5.2" font-style="italic" fill="#aaa" textLength="50" lengthAdjust="spacingAndGlyphs">Hard-to-<tspan fill="#8f8fd0">find</tspan> <tspan fill="#fff" font-weight="bold">made easy</tspan>.</text>
</svg>
</body></html>
